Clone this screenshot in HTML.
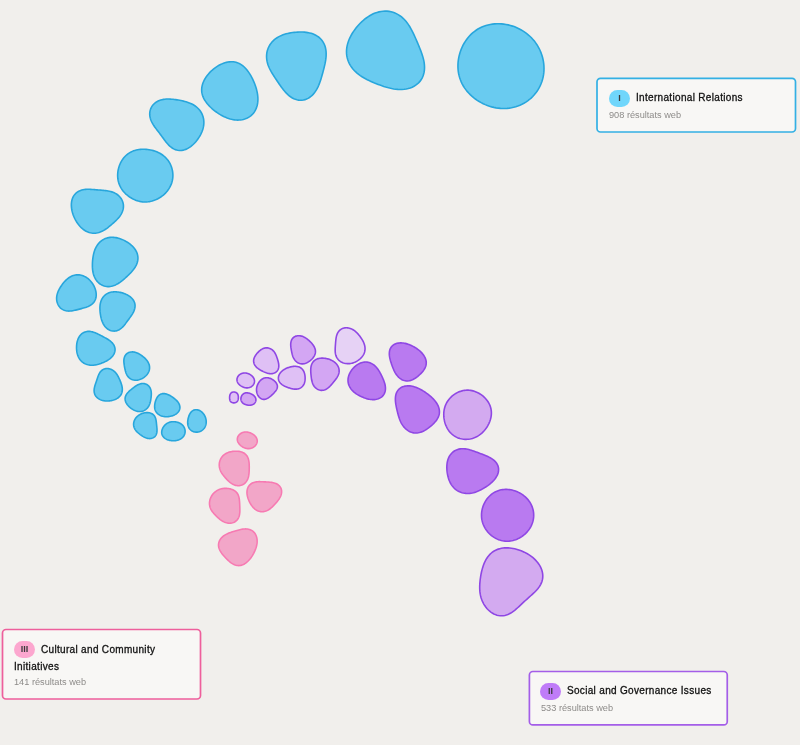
<!DOCTYPE html>
<html><head><meta charset="utf-8">
<style>
html,body{margin:0;padding:0;}
body{width:800px;height:745px;background:#f1efec;position:relative;overflow:hidden;font-family:"Liberation Sans",sans-serif;}
.box{position:absolute;box-sizing:border-box;background:#f8f7f5;border:1.5px solid;border-radius:4px;}
.badge{position:absolute;height:16.5px;border-radius:8.5px;font-size:9px;color:#3a3a3a;will-change:transform;text-align:center;line-height:16.5px;font-weight:bold;}
.t{position:absolute;font-size:10px;line-height:12px;color:#111;font-weight:normal;-webkit-text-stroke:0.3px #111;letter-spacing:0.32px;white-space:nowrap;will-change:transform;}
.s{position:absolute;font-size:9.2px;line-height:11px;color:#8d8b89;white-space:nowrap;will-change:transform;}
</style></head><body>
<svg width="800" height="745" viewBox="0 0 800 745" style="position:absolute;left:0;top:0">
<path d="M499.20,23.75 L501.46,23.87 L503.72,24.10 L505.97,24.44 L508.21,24.90 L510.41,25.45 L512.59,26.11 L514.73,26.87 L516.83,27.73 L518.87,28.68 L520.86,29.73 L522.80,30.86 L524.67,32.08 L526.47,33.39 L528.20,34.78 L529.86,36.25 L531.44,37.79 L532.94,39.41 L534.35,41.10 L535.68,42.86 L536.93,44.69 L538.08,46.58 L539.14,48.52 L540.10,50.52 L540.96,52.57 L541.72,54.67 L542.38,56.80 L542.93,58.97 L543.37,61.17 L543.70,63.40 L543.91,65.64 L544.00,67.89 L543.98,70.14 L543.83,72.39 L543.56,74.63 L543.17,76.85 L542.65,79.05 L542.01,81.21 L541.25,83.33 L540.37,85.41 L539.37,87.43 L538.26,89.39 L537.04,91.28 L535.71,93.10 L534.28,94.83 L532.76,96.48 L531.14,98.04 L529.45,99.50 L527.67,100.86 L525.83,102.12 L523.92,103.27 L521.95,104.31 L519.94,105.24 L517.87,106.06 L515.77,106.76 L513.64,107.34 L511.48,107.80 L509.30,108.15 L507.10,108.39 L504.89,108.50 L502.67,108.50 L500.45,108.39 L498.24,108.17 L496.03,107.84 L493.83,107.40 L491.64,106.86 L489.48,106.21 L487.35,105.46 L485.24,104.62 L483.18,103.68 L481.15,102.64 L479.17,101.52 L477.25,100.31 L475.38,99.02 L473.59,97.64 L471.86,96.19 L470.21,94.66 L468.65,93.06 L467.17,91.38 L465.79,89.64 L464.51,87.84 L463.33,85.98 L462.27,84.06 L461.31,82.08 L460.47,80.06 L459.75,77.99 L459.15,75.88 L458.66,73.73 L458.30,71.55 L458.06,69.35 L457.94,67.12 L457.95,64.88 L458.06,62.64 L458.30,60.39 L458.65,58.15 L459.12,55.92 L459.69,53.71 L460.38,51.54 L461.17,49.39 L462.06,47.29 L463.05,45.24 L464.14,43.25 L465.33,41.32 L466.61,39.47 L467.98,37.70 L469.44,36.01 L470.99,34.41 L472.61,32.92 L474.32,31.52 L476.09,30.23 L477.94,29.05 L479.86,27.99 L481.84,27.04 L483.87,26.21 L485.96,25.50 L488.09,24.91 L490.26,24.44 L492.46,24.09 L494.69,23.86 L496.94,23.74Z" fill="#69cbf0" stroke="#28a6dc" stroke-width="1.6"/>
<path d="M387.06,11.16 L389.07,11.38 L391.06,11.76 L393.02,12.30 L394.92,12.99 L396.77,13.84 L398.54,14.83 L400.24,15.96 L401.85,17.20 L403.38,18.56 L404.81,20.02 L406.16,21.55 L407.41,23.16 L408.58,24.83 L409.68,26.54 L410.70,28.29 L411.66,30.06 L412.57,31.84 L413.45,33.64 L414.28,35.44 L415.10,37.25 L415.90,39.05 L416.69,40.87 L417.47,42.68 L418.25,44.51 L419.02,46.35 L419.78,48.21 L420.53,50.09 L421.25,52.00 L421.94,53.93 L422.57,55.90 L423.15,57.89 L423.64,59.90 L424.05,61.94 L424.34,63.99 L424.50,66.04 L424.53,68.09 L424.41,70.12 L424.12,72.13 L423.67,74.08 L423.04,75.97 L422.24,77.79 L421.26,79.52 L420.11,81.13 L418.81,82.63 L417.35,83.99 L415.75,85.21 L414.03,86.29 L412.21,87.20 L410.29,87.97 L408.30,88.57 L406.26,89.02 L404.17,89.32 L402.07,89.48 L399.95,89.51 L397.85,89.42 L395.75,89.21 L393.68,88.92 L391.64,88.54 L389.63,88.08 L387.65,87.57 L385.70,87.01 L383.79,86.41 L381.90,85.77 L380.04,85.11 L378.19,84.42 L376.36,83.71 L374.53,82.98 L372.72,82.21 L370.91,81.41 L369.11,80.58 L367.31,79.70 L365.52,78.77 L363.76,77.78 L362.01,76.72 L360.31,75.59 L358.64,74.38 L357.04,73.09 L355.50,71.71 L354.05,70.25 L352.69,68.70 L351.45,67.07 L350.32,65.36 L349.33,63.57 L348.48,61.73 L347.77,59.82 L347.22,57.88 L346.82,55.89 L346.58,53.89 L346.50,51.87 L346.56,49.85 L346.77,47.83 L347.12,45.83 L347.60,43.85 L348.20,41.91 L348.90,40.00 L349.71,38.13 L350.61,36.30 L351.59,34.51 L352.64,32.77 L353.76,31.08 L354.94,29.43 L356.18,27.83 L357.47,26.27 L358.81,24.76 L360.20,23.29 L361.64,21.88 L363.14,20.52 L364.68,19.22 L366.29,17.99 L367.94,16.82 L369.66,15.74 L371.43,14.74 L373.25,13.85 L375.12,13.06 L377.04,12.40 L379.00,11.86 L380.99,11.46 L383.01,11.21 L385.03,11.10Z" fill="#69cbf0" stroke="#28a6dc" stroke-width="1.6"/>
<path d="M297.62,32.11 L299.31,32.04 L301.00,32.03 L302.70,32.07 L304.40,32.17 L306.10,32.34 L307.79,32.59 L309.46,32.92 L311.10,33.34 L312.71,33.86 L314.27,34.48 L315.78,35.21 L317.21,36.05 L318.56,36.99 L319.83,38.05 L320.99,39.21 L322.04,40.47 L322.98,41.83 L323.80,43.26 L324.49,44.78 L325.06,46.35 L325.51,47.98 L325.83,49.65 L326.05,51.35 L326.15,53.06 L326.16,54.78 L326.09,56.50 L325.93,58.20 L325.72,59.89 L325.44,61.56 L325.13,63.21 L324.78,64.84 L324.41,66.44 L324.02,68.02 L323.62,69.59 L323.21,71.15 L322.79,72.70 L322.36,74.25 L321.93,75.80 L321.48,77.36 L321.00,78.93 L320.50,80.50 L319.96,82.08 L319.38,83.67 L318.74,85.25 L318.03,86.82 L317.26,88.38 L316.40,89.89 L315.46,91.37 L314.44,92.78 L313.33,94.11 L312.13,95.35 L310.84,96.48 L309.48,97.49 L308.05,98.36 L306.56,99.08 L305.02,99.63 L303.43,100.02 L301.83,100.23 L300.20,100.27 L298.58,100.13 L296.98,99.82 L295.39,99.34 L293.84,98.71 L292.34,97.94 L290.88,97.03 L289.48,96.01 L288.14,94.89 L286.86,93.69 L285.64,92.42 L284.47,91.10 L283.36,89.74 L282.29,88.36 L281.27,86.97 L280.28,85.57 L279.31,84.18 L278.37,82.80 L277.45,81.43 L276.54,80.06 L275.63,78.71 L274.74,77.36 L273.86,76.00 L272.99,74.64 L272.14,73.27 L271.32,71.87 L270.53,70.45 L269.77,69.00 L269.08,67.51 L268.44,65.98 L267.88,64.42 L267.40,62.81 L267.02,61.17 L266.75,59.51 L266.59,57.82 L266.56,56.12 L266.65,54.42 L266.87,52.72 L267.23,51.05 L267.72,49.40 L268.33,47.81 L269.07,46.27 L269.93,44.79 L270.90,43.39 L271.97,42.07 L273.14,40.84 L274.38,39.71 L275.70,38.67 L277.07,37.72 L278.50,36.87 L279.97,36.10 L281.48,35.42 L283.02,34.83 L284.58,34.30 L286.16,33.84 L287.76,33.45 L289.37,33.11 L291.00,32.82 L292.63,32.57 L294.28,32.37 L295.95,32.22Z" fill="#69cbf0" stroke="#28a6dc" stroke-width="1.6"/>
<path d="M233.44,61.79 L234.75,61.98 L236.03,62.27 L237.28,62.65 L238.49,63.12 L239.65,63.68 L240.79,64.33 L241.88,65.06 L242.94,65.87 L243.96,66.75 L244.95,67.71 L245.90,68.72 L246.82,69.80 L247.71,70.94 L248.57,72.13 L249.40,73.36 L250.20,74.64 L250.98,75.96 L251.72,77.32 L252.43,78.71 L253.11,80.12 L253.76,81.57 L254.37,83.03 L254.95,84.52 L255.48,86.02 L255.97,87.53 L256.42,89.06 L256.81,90.59 L257.15,92.12 L257.43,93.66 L257.65,95.19 L257.81,96.72 L257.89,98.23 L257.91,99.73 L257.84,101.21 L257.70,102.67 L257.48,104.10 L257.18,105.50 L256.79,106.87 L256.32,108.19 L255.77,109.46 L255.14,110.68 L254.42,111.85 L253.62,112.95 L252.74,113.99 L251.79,114.96 L250.77,115.85 L249.68,116.67 L248.53,117.40 L247.32,118.05 L246.06,118.61 L244.75,119.09 L243.39,119.47 L242.00,119.76 L240.57,119.96 L239.12,120.07 L237.65,120.10 L236.16,120.03 L234.66,119.88 L233.15,119.64 L231.64,119.33 L230.13,118.94 L228.63,118.47 L227.13,117.94 L225.65,117.35 L224.19,116.69 L222.75,115.98 L221.33,115.22 L219.93,114.41 L218.57,113.56 L217.23,112.67 L215.93,111.74 L214.66,110.79 L213.43,109.80 L212.25,108.80 L211.11,107.76 L210.02,106.71 L208.97,105.64 L207.98,104.54 L207.05,103.43 L206.19,102.30 L205.38,101.16 L204.64,100.00 L203.98,98.82 L203.39,97.62 L202.89,96.40 L202.46,95.16 L202.13,93.91 L201.88,92.64 L201.72,91.35 L201.66,90.05 L201.70,88.72 L201.84,87.39 L202.07,86.04 L202.41,84.68 L202.84,83.32 L203.38,81.95 L204.01,80.58 L204.73,79.22 L205.54,77.86 L206.44,76.53 L207.43,75.21 L208.49,73.92 L209.63,72.66 L210.83,71.45 L212.09,70.28 L213.40,69.16 L214.76,68.09 L216.15,67.10 L217.58,66.17 L219.03,65.32 L220.50,64.55 L221.98,63.86 L223.46,63.26 L224.94,62.76 L226.41,62.35 L227.86,62.04 L229.29,61.83 L230.70,61.72 L232.08,61.71Z" fill="#69cbf0" stroke="#28a6dc" stroke-width="1.6"/>
<path d="M170.34,99.08 L171.70,99.18 L173.04,99.32 L174.37,99.48 L175.69,99.66 L177.00,99.86 L178.30,100.08 L179.60,100.32 L180.90,100.57 L182.20,100.84 L183.50,101.14 L184.80,101.46 L186.10,101.82 L187.40,102.21 L188.69,102.66 L189.97,103.15 L191.24,103.71 L192.48,104.32 L193.70,105.01 L194.88,105.76 L196.02,106.59 L197.11,107.49 L198.13,108.46 L199.09,109.49 L199.97,110.59 L200.77,111.75 L201.48,112.95 L202.10,114.20 L202.63,115.49 L203.07,116.80 L203.41,118.13 L203.65,119.47 L203.80,120.82 L203.87,122.17 L203.85,123.51 L203.74,124.84 L203.56,126.15 L203.31,127.44 L202.99,128.72 L202.60,129.98 L202.16,131.22 L201.66,132.44 L201.10,133.65 L200.50,134.84 L199.84,136.01 L199.14,137.18 L198.39,138.33 L197.59,139.46 L196.75,140.58 L195.85,141.67 L194.91,142.74 L193.92,143.77 L192.88,144.77 L191.80,145.71 L190.67,146.60 L189.49,147.42 L188.28,148.16 L187.04,148.82 L185.77,149.38 L184.47,149.83 L183.16,150.17 L181.85,150.39 L180.53,150.49 L179.22,150.46 L177.92,150.31 L176.65,150.03 L175.40,149.63 L174.19,149.11 L173.01,148.48 L171.88,147.76 L170.79,146.94 L169.74,146.05 L168.73,145.09 L167.77,144.08 L166.85,143.02 L165.96,141.94 L165.09,140.83 L164.26,139.72 L163.43,138.60 L162.63,137.49 L161.82,136.38 L161.02,135.28 L160.22,134.20 L159.41,133.13 L158.60,132.06 L157.79,131.00 L156.97,129.94 L156.16,128.87 L155.35,127.79 L154.56,126.69 L153.79,125.56 L153.05,124.41 L152.36,123.23 L151.73,122.01 L151.16,120.76 L150.67,119.48 L150.28,118.17 L149.98,116.84 L149.79,115.49 L149.72,114.13 L149.77,112.77 L149.95,111.42 L150.26,110.10 L150.69,108.82 L151.25,107.58 L151.94,106.40 L152.73,105.29 L153.64,104.26 L154.64,103.31 L155.73,102.46 L156.89,101.70 L158.12,101.05 L159.40,100.49 L160.72,100.03 L162.07,99.66 L163.45,99.39 L164.83,99.19 L166.21,99.07 L167.60,99.02 L168.98,99.03Z" fill="#69cbf0" stroke="#28a6dc" stroke-width="1.6"/>
<path d="M144.77,149.28 L146.21,149.36 L147.66,149.51 L149.09,149.71 L150.52,149.96 L151.92,150.28 L153.31,150.64 L154.68,151.06 L156.02,151.54 L157.33,152.07 L158.61,152.66 L159.85,153.31 L161.06,154.01 L162.22,154.77 L163.34,155.60 L164.41,156.48 L165.43,157.42 L166.39,158.42 L167.30,159.47 L168.15,160.58 L168.94,161.74 L169.66,162.94 L170.32,164.20 L170.90,165.49 L171.42,166.82 L171.86,168.18 L172.23,169.56 L172.51,170.97 L172.72,172.39 L172.85,173.82 L172.90,175.25 L172.86,176.68 L172.74,178.10 L172.54,179.51 L172.26,180.90 L171.91,182.27 L171.47,183.62 L170.95,184.93 L170.37,186.22 L169.71,187.46 L168.98,188.68 L168.19,189.85 L167.34,190.98 L166.43,192.06 L165.46,193.10 L164.44,194.10 L163.38,195.04 L162.27,195.93 L161.12,196.77 L159.93,197.56 L158.71,198.29 L157.47,198.96 L156.19,199.56 L154.89,200.11 L153.57,200.59 L152.22,201.00 L150.87,201.34 L149.50,201.61 L148.11,201.81 L146.72,201.93 L145.33,201.98 L143.93,201.94 L142.53,201.84 L141.13,201.65 L139.74,201.39 L138.36,201.05 L137.00,200.64 L135.64,200.16 L134.31,199.61 L133.01,198.99 L131.73,198.31 L130.48,197.56 L129.28,196.76 L128.11,195.90 L126.99,194.99 L125.91,194.04 L124.89,193.03 L123.93,191.98 L123.02,190.89 L122.18,189.76 L121.41,188.60 L120.70,187.40 L120.06,186.17 L119.50,184.91 L119.01,183.62 L118.59,182.30 L118.25,180.96 L117.98,179.60 L117.79,178.22 L117.68,176.83 L117.64,175.42 L117.68,174.00 L117.79,172.58 L117.97,171.16 L118.23,169.74 L118.55,168.33 L118.95,166.93 L119.42,165.56 L119.95,164.21 L120.55,162.89 L121.22,161.62 L121.95,160.38 L122.74,159.19 L123.59,158.06 L124.50,156.99 L125.46,155.97 L126.48,155.03 L127.55,154.15 L128.67,153.34 L129.84,152.61 L131.05,151.95 L132.30,151.37 L133.59,150.86 L134.91,150.42 L136.26,150.06 L137.64,149.76 L139.04,149.54 L140.45,149.38 L141.88,149.28 L143.32,149.25Z" fill="#69cbf0" stroke="#28a6dc" stroke-width="1.6"/>
<path d="M89.45,189.30 L90.75,189.35 L92.03,189.43 L93.31,189.52 L94.57,189.62 L95.82,189.73 L97.07,189.84 L98.30,189.95 L99.53,190.05 L100.75,190.15 L101.98,190.26 L103.20,190.36 L104.43,190.48 L105.66,190.62 L106.89,190.78 L108.13,190.98 L109.36,191.22 L110.60,191.51 L111.82,191.87 L113.03,192.29 L114.21,192.79 L115.37,193.36 L116.48,194.02 L117.55,194.76 L118.55,195.58 L119.48,196.49 L120.34,197.46 L121.10,198.50 L121.77,199.61 L122.33,200.76 L122.78,201.96 L123.12,203.19 L123.35,204.43 L123.45,205.69 L123.44,206.94 L123.32,208.19 L123.10,209.42 L122.76,210.63 L122.34,211.80 L121.83,212.94 L121.24,214.05 L120.58,215.12 L119.86,216.15 L119.09,217.14 L118.28,218.11 L117.43,219.05 L116.55,219.96 L115.65,220.85 L114.74,221.72 L113.80,222.58 L112.86,223.43 L111.90,224.27 L110.93,225.10 L109.95,225.91 L108.96,226.72 L107.94,227.51 L106.91,228.28 L105.86,229.02 L104.79,229.73 L103.69,230.39 L102.57,231.01 L101.42,231.56 L100.24,232.05 L99.04,232.47 L97.83,232.80 L96.59,233.04 L95.34,233.19 L94.09,233.25 L92.83,233.20 L91.58,233.06 L90.34,232.82 L89.11,232.48 L87.91,232.05 L86.74,231.53 L85.60,230.93 L84.50,230.26 L83.44,229.52 L82.43,228.72 L81.46,227.86 L80.55,226.97 L79.68,226.03 L78.86,225.06 L78.09,224.06 L77.36,223.04 L76.67,222.00 L76.03,220.94 L75.42,219.86 L74.86,218.76 L74.33,217.65 L73.83,216.51 L73.38,215.36 L72.96,214.18 L72.58,212.98 L72.24,211.76 L71.95,210.51 L71.71,209.25 L71.52,207.97 L71.40,206.68 L71.35,205.38 L71.36,204.08 L71.46,202.78 L71.64,201.50 L71.90,200.24 L72.26,199.01 L72.71,197.83 L73.25,196.70 L73.88,195.63 L74.60,194.64 L75.41,193.72 L76.31,192.88 L77.28,192.13 L78.32,191.48 L79.42,190.91 L80.57,190.44 L81.77,190.06 L83.01,189.76 L84.27,189.54 L85.56,189.40 L86.85,189.31 L88.15,189.28Z" fill="#69cbf0" stroke="#28a6dc" stroke-width="1.6"/>
<path d="M112.39,237.30 L113.60,237.35 L114.81,237.47 L116.01,237.65 L117.20,237.90 L118.39,238.19 L119.56,238.54 L120.72,238.94 L121.87,239.38 L123.01,239.87 L124.13,240.40 L125.24,240.97 L126.33,241.58 L127.41,242.24 L128.46,242.93 L129.49,243.67 L130.48,244.45 L131.44,245.27 L132.37,246.13 L133.24,247.04 L134.06,247.99 L134.82,248.98 L135.51,250.01 L136.13,251.07 L136.66,252.17 L137.11,253.30 L137.46,254.45 L137.72,255.63 L137.88,256.81 L137.94,258.01 L137.90,259.21 L137.76,260.40 L137.53,261.59 L137.20,262.76 L136.79,263.92 L136.29,265.05 L135.72,266.15 L135.09,267.23 L134.40,268.28 L133.67,269.31 L132.89,270.30 L132.07,271.26 L131.24,272.20 L130.38,273.12 L129.50,274.01 L128.62,274.89 L127.72,275.75 L126.82,276.59 L125.92,277.42 L125.01,278.24 L124.08,279.04 L123.15,279.84 L122.21,280.61 L121.24,281.36 L120.26,282.09 L119.25,282.79 L118.22,283.46 L117.16,284.08 L116.07,284.65 L114.95,285.16 L113.80,285.61 L112.62,285.98 L111.43,286.27 L110.21,286.47 L108.98,286.58 L107.75,286.59 L106.52,286.49 L105.30,286.29 L104.10,285.98 L102.93,285.57 L101.80,285.06 L100.71,284.44 L99.68,283.74 L98.71,282.94 L97.80,282.07 L96.97,281.12 L96.21,280.12 L95.52,279.05 L94.91,277.95 L94.38,276.80 L93.92,275.63 L93.53,274.43 L93.21,273.23 L92.95,272.01 L92.75,270.79 L92.59,269.57 L92.49,268.35 L92.42,267.13 L92.39,265.92 L92.39,264.72 L92.42,263.52 L92.47,262.32 L92.55,261.12 L92.65,259.92 L92.79,258.72 L92.95,257.52 L93.14,256.31 L93.36,255.11 L93.62,253.91 L93.93,252.71 L94.28,251.51 L94.69,250.33 L95.14,249.16 L95.66,248.01 L96.24,246.89 L96.88,245.80 L97.58,244.75 L98.35,243.75 L99.17,242.81 L100.06,241.93 L101.00,241.11 L102.00,240.37 L103.04,239.70 L104.12,239.11 L105.24,238.61 L106.39,238.19 L107.57,237.85 L108.76,237.59 L109.96,237.42 L111.17,237.32Z" fill="#69cbf0" stroke="#28a6dc" stroke-width="1.6"/>
<path d="M78.28,274.84 L79.27,274.91 L80.25,275.04 L81.22,275.23 L82.18,275.49 L83.11,275.80 L84.02,276.17 L84.90,276.59 L85.75,277.06 L86.58,277.57 L87.37,278.12 L88.14,278.71 L88.87,279.34 L89.58,280.00 L90.25,280.70 L90.90,281.42 L91.52,282.18 L92.11,282.97 L92.66,283.78 L93.19,284.63 L93.69,285.50 L94.15,286.40 L94.57,287.33 L94.95,288.28 L95.30,289.25 L95.59,290.23 L95.83,291.24 L96.02,292.25 L96.15,293.26 L96.22,294.28 L96.22,295.29 L96.16,296.29 L96.02,297.27 L95.81,298.23 L95.52,299.15 L95.17,300.04 L94.73,300.89 L94.23,301.70 L93.67,302.46 L93.04,303.17 L92.35,303.83 L91.60,304.44 L90.81,305.00 L89.97,305.51 L89.10,305.97 L88.20,306.40 L87.28,306.79 L86.33,307.15 L85.38,307.47 L84.41,307.78 L83.44,308.07 L82.46,308.35 L81.49,308.62 L80.52,308.88 L79.55,309.14 L78.58,309.39 L77.62,309.64 L76.65,309.88 L75.69,310.12 L74.73,310.34 L73.76,310.54 L72.79,310.73 L71.83,310.88 L70.86,311.00 L69.88,311.07 L68.91,311.10 L67.95,311.07 L66.98,310.97 L66.03,310.81 L65.10,310.58 L64.18,310.27 L63.29,309.88 L62.44,309.42 L61.62,308.88 L60.84,308.27 L60.12,307.59 L59.46,306.84 L58.85,306.03 L58.31,305.16 L57.85,304.26 L57.45,303.31 L57.13,302.34 L56.89,301.34 L56.72,300.33 L56.63,299.31 L56.60,298.29 L56.65,297.28 L56.76,296.28 L56.92,295.30 L57.15,294.33 L57.42,293.38 L57.74,292.46 L58.10,291.55 L58.49,290.66 L58.92,289.80 L59.37,288.95 L59.84,288.11 L60.34,287.29 L60.86,286.48 L61.40,285.68 L61.95,284.89 L62.53,284.10 L63.13,283.33 L63.75,282.57 L64.39,281.82 L65.06,281.08 L65.76,280.37 L66.48,279.67 L67.24,279.01 L68.02,278.37 L68.84,277.78 L69.68,277.22 L70.56,276.72 L71.46,276.26 L72.39,275.87 L73.34,275.53 L74.31,275.26 L75.29,275.05 L76.28,274.91 L77.28,274.84Z" fill="#69cbf0" stroke="#28a6dc" stroke-width="1.6"/>
<path d="M115.44,291.80 L116.40,291.84 L117.35,291.93 L118.30,292.04 L119.25,292.20 L120.19,292.38 L121.14,292.60 L122.08,292.85 L123.02,293.13 L123.95,293.44 L124.88,293.79 L125.80,294.18 L126.70,294.60 L127.59,295.06 L128.46,295.56 L129.30,296.11 L130.11,296.69 L130.87,297.33 L131.60,298.00 L132.27,298.72 L132.88,299.47 L133.42,300.27 L133.89,301.10 L134.29,301.96 L134.61,302.84 L134.85,303.75 L135.00,304.67 L135.07,305.61 L135.05,306.55 L134.96,307.49 L134.79,308.43 L134.55,309.36 L134.24,310.28 L133.88,311.18 L133.46,312.07 L133.01,312.95 L132.51,313.81 L131.99,314.65 L131.44,315.48 L130.88,316.30 L130.31,317.11 L129.73,317.90 L129.16,318.69 L128.58,319.48 L128.00,320.27 L127.43,321.05 L126.86,321.83 L126.28,322.61 L125.70,323.39 L125.11,324.16 L124.50,324.92 L123.88,325.66 L123.23,326.39 L122.56,327.09 L121.85,327.76 L121.12,328.39 L120.35,328.97 L119.55,329.50 L118.71,329.96 L117.84,330.35 L116.94,330.67 L116.02,330.90 L115.07,331.05 L114.12,331.10 L113.15,331.07 L112.19,330.94 L111.24,330.72 L110.30,330.41 L109.39,330.01 L108.51,329.54 L107.66,328.98 L106.86,328.36 L106.11,327.68 L105.40,326.94 L104.75,326.16 L104.16,325.34 L103.62,324.49 L103.13,323.61 L102.69,322.72 L102.30,321.81 L101.95,320.90 L101.64,319.98 L101.37,319.06 L101.13,318.14 L100.92,317.22 L100.73,316.31 L100.56,315.39 L100.41,314.47 L100.28,313.54 L100.17,312.61 L100.07,311.68 L100.00,310.73 L99.94,309.78 L99.91,308.82 L99.91,307.85 L99.93,306.87 L100.00,305.89 L100.11,304.90 L100.26,303.92 L100.46,302.94 L100.71,301.97 L101.02,301.02 L101.39,300.09 L101.81,299.18 L102.30,298.31 L102.84,297.49 L103.44,296.70 L104.09,295.97 L104.79,295.29 L105.54,294.67 L106.33,294.12 L107.15,293.62 L108.01,293.18 L108.89,292.81 L109.80,292.50 L110.72,292.25 L111.65,292.06 L112.59,291.92 L113.54,291.83 L114.49,291.79Z" fill="#69cbf0" stroke="#28a6dc" stroke-width="1.6"/>
<path d="M88.80,331.36 L89.74,331.40 L90.68,331.50 L91.62,331.66 L92.55,331.88 L93.46,332.15 L94.36,332.45 L95.25,332.79 L96.12,333.16 L96.98,333.55 L97.82,333.95 L98.66,334.37 L99.48,334.79 L100.30,335.22 L101.12,335.65 L101.94,336.08 L102.76,336.51 L103.58,336.94 L104.41,337.38 L105.24,337.83 L106.07,338.29 L106.91,338.77 L107.73,339.27 L108.55,339.79 L109.36,340.34 L110.14,340.93 L110.89,341.55 L111.61,342.20 L112.27,342.90 L112.89,343.63 L113.44,344.40 L113.92,345.21 L114.33,346.04 L114.65,346.90 L114.88,347.79 L115.02,348.69 L115.07,349.60 L115.02,350.51 L114.88,351.42 L114.65,352.32 L114.33,353.21 L113.92,354.07 L113.44,354.90 L112.89,355.70 L112.28,356.47 L111.61,357.19 L110.90,357.88 L110.14,358.53 L109.36,359.13 L108.55,359.70 L107.73,360.23 L106.89,360.73 L106.04,361.19 L105.19,361.62 L104.34,362.03 L103.49,362.41 L102.64,362.76 L101.78,363.10 L100.93,363.42 L100.07,363.72 L99.21,364.00 L98.34,364.25 L97.46,364.49 L96.57,364.70 L95.67,364.88 L94.75,365.03 L93.83,365.14 L92.89,365.21 L91.94,365.23 L90.99,365.21 L90.03,365.13 L89.08,365.00 L88.13,364.81 L87.19,364.57 L86.27,364.26 L85.36,363.89 L84.49,363.46 L83.65,362.97 L82.85,362.42 L82.10,361.83 L81.38,361.18 L80.72,360.49 L80.11,359.76 L79.55,358.99 L79.05,358.19 L78.60,357.37 L78.20,356.52 L77.85,355.66 L77.55,354.78 L77.29,353.89 L77.07,352.98 L76.89,352.07 L76.75,351.16 L76.65,350.23 L76.58,349.31 L76.54,348.38 L76.53,347.44 L76.55,346.50 L76.60,345.56 L76.69,344.62 L76.81,343.67 L76.97,342.73 L77.17,341.79 L77.41,340.87 L77.70,339.95 L78.03,339.05 L78.42,338.18 L78.86,337.33 L79.36,336.51 L79.90,335.74 L80.51,335.01 L81.16,334.34 L81.87,333.72 L82.62,333.17 L83.41,332.69 L84.25,332.28 L85.11,331.95 L86.01,331.69 L86.92,331.50 L87.86,331.40Z" fill="#69cbf0" stroke="#28a6dc" stroke-width="1.6"/>
<path d="M132.20,351.90 L132.93,351.92 L133.66,351.99 L134.38,352.11 L135.09,352.26 L135.79,352.45 L136.47,352.68 L137.14,352.94 L137.78,353.22 L138.42,353.53 L139.03,353.86 L139.63,354.20 L140.22,354.56 L140.80,354.94 L141.36,355.33 L141.91,355.73 L142.46,356.14 L143.00,356.57 L143.53,357.01 L144.05,357.46 L144.57,357.93 L145.08,358.42 L145.58,358.92 L146.06,359.45 L146.53,359.99 L146.98,360.56 L147.40,361.14 L147.80,361.75 L148.16,362.38 L148.50,363.02 L148.79,363.69 L149.04,364.36 L149.25,365.06 L149.41,365.76 L149.52,366.46 L149.57,367.18 L149.58,367.89 L149.54,368.60 L149.44,369.30 L149.30,370.00 L149.11,370.68 L148.87,371.35 L148.59,372.01 L148.28,372.64 L147.92,373.26 L147.53,373.85 L147.11,374.42 L146.65,374.97 L146.18,375.49 L145.68,375.99 L145.15,376.47 L144.61,376.92 L144.05,377.35 L143.47,377.75 L142.87,378.13 L142.26,378.48 L141.63,378.81 L140.98,379.10 L140.33,379.37 L139.65,379.60 L138.97,379.80 L138.28,379.96 L137.57,380.09 L136.86,380.18 L136.15,380.22 L135.43,380.22 L134.72,380.17 L134.01,380.08 L133.31,379.94 L132.63,379.75 L131.96,379.52 L131.31,379.23 L130.69,378.90 L130.09,378.53 L129.53,378.11 L129.00,377.65 L128.50,377.16 L128.04,376.63 L127.62,376.07 L127.23,375.49 L126.88,374.88 L126.56,374.25 L126.28,373.61 L126.02,372.95 L125.79,372.28 L125.58,371.61 L125.39,370.93 L125.22,370.24 L125.05,369.55 L124.90,368.86 L124.76,368.17 L124.63,367.48 L124.50,366.78 L124.38,366.08 L124.26,365.38 L124.16,364.67 L124.06,363.97 L123.98,363.26 L123.91,362.54 L123.87,361.83 L123.85,361.11 L123.86,360.40 L123.91,359.69 L123.99,358.99 L124.12,358.30 L124.29,357.62 L124.50,356.97 L124.77,356.33 L125.10,355.73 L125.47,355.15 L125.89,354.61 L126.36,354.11 L126.88,353.66 L127.45,353.26 L128.05,352.90 L128.69,352.60 L129.35,352.35 L130.04,352.16 L130.75,352.02 L131.47,351.94Z" fill="#69cbf0" stroke="#28a6dc" stroke-width="1.6"/>
<path d="M106.70,368.53 L107.52,368.53 L108.34,368.60 L109.16,368.73 L109.96,368.94 L110.75,369.21 L111.52,369.54 L112.26,369.92 L112.96,370.35 L113.63,370.83 L114.26,371.34 L114.85,371.89 L115.40,372.46 L115.91,373.06 L116.39,373.67 L116.84,374.30 L117.26,374.94 L117.65,375.60 L118.02,376.26 L118.38,376.93 L118.72,377.61 L119.05,378.29 L119.38,378.99 L119.69,379.69 L120.00,380.41 L120.31,381.14 L120.61,381.88 L120.89,382.63 L121.17,383.40 L121.43,384.18 L121.66,384.98 L121.87,385.79 L122.05,386.60 L122.18,387.43 L122.28,388.25 L122.33,389.08 L122.32,389.90 L122.26,390.72 L122.15,391.52 L121.97,392.30 L121.73,393.07 L121.43,393.80 L121.07,394.51 L120.66,395.18 L120.19,395.82 L119.67,396.42 L119.11,396.98 L118.50,397.50 L117.86,397.98 L117.19,398.41 L116.49,398.81 L115.78,399.17 L115.04,399.49 L114.29,399.78 L113.54,400.03 L112.77,400.25 L112.00,400.44 L111.23,400.60 L110.45,400.74 L109.67,400.84 L108.89,400.92 L108.10,400.97 L107.31,401.00 L106.52,400.99 L105.73,400.95 L104.94,400.88 L104.14,400.78 L103.35,400.63 L102.56,400.45 L101.78,400.23 L101.01,399.96 L100.25,399.64 L99.52,399.28 L98.81,398.87 L98.13,398.42 L97.49,397.92 L96.90,397.38 L96.35,396.80 L95.86,396.17 L95.42,395.51 L95.04,394.83 L94.73,394.11 L94.48,393.37 L94.30,392.61 L94.17,391.84 L94.11,391.06 L94.10,390.27 L94.15,389.47 L94.24,388.68 L94.38,387.89 L94.55,387.10 L94.75,386.32 L94.97,385.55 L95.21,384.78 L95.45,384.01 L95.71,383.25 L95.97,382.49 L96.22,381.74 L96.48,380.98 L96.73,380.23 L96.98,379.47 L97.22,378.72 L97.47,377.96 L97.73,377.21 L97.99,376.46 L98.28,375.72 L98.58,374.98 L98.90,374.26 L99.26,373.56 L99.66,372.88 L100.09,372.23 L100.56,371.61 L101.08,371.04 L101.65,370.51 L102.26,370.03 L102.92,369.62 L103.61,369.26 L104.34,368.97 L105.10,368.75 L105.89,368.60Z" fill="#69cbf0" stroke="#28a6dc" stroke-width="1.6"/>
<path d="M144.17,383.62 L144.87,383.76 L145.55,383.96 L146.21,384.22 L146.84,384.54 L147.44,384.91 L148.01,385.34 L148.53,385.81 L149.01,386.33 L149.45,386.89 L149.84,387.48 L150.18,388.10 L150.47,388.75 L150.71,389.42 L150.91,390.10 L151.07,390.80 L151.18,391.50 L151.26,392.21 L151.31,392.92 L151.33,393.63 L151.33,394.33 L151.30,395.04 L151.26,395.74 L151.20,396.43 L151.13,397.12 L151.05,397.81 L150.96,398.50 L150.86,399.18 L150.75,399.86 L150.63,400.54 L150.49,401.22 L150.33,401.90 L150.16,402.58 L149.96,403.25 L149.73,403.91 L149.48,404.57 L149.19,405.22 L148.87,405.85 L148.52,406.47 L148.12,407.07 L147.69,407.64 L147.22,408.19 L146.72,408.71 L146.18,409.19 L145.61,409.63 L145.01,410.03 L144.38,410.39 L143.74,410.70 L143.07,410.96 L142.39,411.18 L141.70,411.35 L141.01,411.47 L140.31,411.54 L139.61,411.57 L138.92,411.55 L138.24,411.48 L137.56,411.38 L136.89,411.24 L136.24,411.06 L135.59,410.84 L134.95,410.59 L134.32,410.31 L133.70,410.00 L133.09,409.67 L132.49,409.30 L131.90,408.92 L131.32,408.50 L130.74,408.07 L130.18,407.61 L129.62,407.13 L129.09,406.63 L128.56,406.10 L128.06,405.56 L127.59,404.99 L127.14,404.41 L126.72,403.80 L126.35,403.18 L126.01,402.55 L125.72,401.91 L125.48,401.25 L125.30,400.59 L125.17,399.92 L125.10,399.25 L125.10,398.58 L125.15,397.92 L125.26,397.26 L125.43,396.61 L125.66,395.98 L125.94,395.35 L126.26,394.75 L126.64,394.15 L127.05,393.58 L127.49,393.02 L127.97,392.48 L128.47,391.96 L128.98,391.45 L129.52,390.95 L130.06,390.47 L130.60,390.00 L131.15,389.54 L131.71,389.08 L132.26,388.64 L132.81,388.20 L133.37,387.77 L133.92,387.34 L134.48,386.93 L135.05,386.52 L135.62,386.12 L136.20,385.74 L136.79,385.37 L137.40,385.03 L138.02,384.71 L138.65,384.42 L139.30,384.16 L139.97,383.94 L140.65,383.76 L141.35,383.62 L142.05,383.54 L142.76,383.51 L143.47,383.54Z" fill="#69cbf0" stroke="#28a6dc" stroke-width="1.6"/>
<path d="M163.91,393.59 L164.54,393.63 L165.17,393.72 L165.81,393.84 L166.43,394.01 L167.05,394.20 L167.67,394.43 L168.27,394.68 L168.86,394.96 L169.44,395.25 L170.00,395.56 L170.56,395.89 L171.10,396.22 L171.63,396.56 L172.15,396.91 L172.66,397.27 L173.17,397.63 L173.67,398.00 L174.16,398.38 L174.64,398.76 L175.12,399.16 L175.59,399.57 L176.05,399.99 L176.50,400.43 L176.94,400.89 L177.37,401.36 L177.77,401.85 L178.16,402.37 L178.51,402.90 L178.84,403.45 L179.13,404.02 L179.38,404.61 L179.58,405.21 L179.74,405.82 L179.85,406.44 L179.91,407.07 L179.92,407.69 L179.86,408.32 L179.76,408.93 L179.59,409.54 L179.37,410.13 L179.11,410.70 L178.79,411.25 L178.42,411.77 L178.02,412.27 L177.57,412.74 L177.09,413.19 L176.59,413.60 L176.06,413.98 L175.51,414.33 L174.94,414.65 L174.37,414.95 L173.78,415.21 L173.19,415.46 L172.60,415.67 L172.00,415.87 L171.40,416.04 L170.81,416.20 L170.21,416.33 L169.61,416.45 L169.01,416.55 L168.41,416.62 L167.80,416.68 L167.19,416.72 L166.58,416.74 L165.96,416.74 L165.34,416.71 L164.71,416.65 L164.08,416.57 L163.45,416.46 L162.81,416.32 L162.18,416.15 L161.56,415.95 L160.94,415.71 L160.33,415.45 L159.74,415.14 L159.17,414.81 L158.62,414.45 L158.10,414.05 L157.60,413.63 L157.14,413.18 L156.72,412.71 L156.33,412.21 L155.99,411.70 L155.68,411.16 L155.41,410.61 L155.19,410.05 L155.00,409.47 L154.85,408.88 L154.74,408.29 L154.67,407.69 L154.63,407.08 L154.61,406.46 L154.63,405.84 L154.68,405.22 L154.74,404.59 L154.83,403.96 L154.95,403.33 L155.08,402.70 L155.23,402.07 L155.41,401.44 L155.60,400.81 L155.82,400.19 L156.05,399.58 L156.31,398.98 L156.60,398.39 L156.90,397.82 L157.24,397.27 L157.60,396.75 L157.99,396.26 L158.41,395.80 L158.85,395.37 L159.33,394.99 L159.83,394.65 L160.35,394.35 L160.90,394.10 L161.47,393.90 L162.06,393.75 L162.67,393.65 L163.28,393.60Z" fill="#69cbf0" stroke="#28a6dc" stroke-width="1.6"/>
<path d="M196.43,409.71 L196.97,409.75 L197.50,409.84 L198.02,409.96 L198.54,410.12 L199.06,410.31 L199.56,410.54 L200.05,410.80 L200.52,411.08 L200.98,411.40 L201.42,411.73 L201.84,412.08 L202.25,412.45 L202.63,412.84 L202.99,413.24 L203.34,413.65 L203.66,414.08 L203.97,414.52 L204.26,414.96 L204.52,415.42 L204.77,415.88 L205.00,416.35 L205.21,416.83 L205.40,417.32 L205.57,417.81 L205.73,418.32 L205.86,418.83 L205.98,419.34 L206.07,419.87 L206.14,420.40 L206.19,420.93 L206.22,421.47 L206.22,422.02 L206.20,422.56 L206.16,423.10 L206.09,423.65 L205.99,424.19 L205.87,424.72 L205.72,425.25 L205.55,425.76 L205.34,426.27 L205.11,426.76 L204.86,427.25 L204.58,427.71 L204.27,428.16 L203.94,428.59 L203.59,429.00 L203.21,429.38 L202.81,429.75 L202.39,430.09 L201.96,430.41 L201.50,430.71 L201.03,430.98 L200.54,431.23 L200.04,431.44 L199.53,431.63 L199.01,431.80 L198.48,431.93 L197.94,432.03 L197.40,432.11 L196.85,432.15 L196.30,432.16 L195.76,432.14 L195.21,432.08 L194.67,431.99 L194.14,431.87 L193.62,431.71 L193.10,431.52 L192.61,431.30 L192.12,431.05 L191.66,430.76 L191.22,430.45 L190.79,430.10 L190.39,429.73 L190.02,429.33 L189.67,428.91 L189.35,428.47 L189.06,428.02 L188.80,427.54 L188.57,427.05 L188.36,426.55 L188.19,426.05 L188.04,425.53 L187.92,425.01 L187.82,424.49 L187.75,423.96 L187.70,423.43 L187.68,422.91 L187.67,422.38 L187.69,421.86 L187.72,421.33 L187.77,420.81 L187.83,420.29 L187.91,419.77 L188.00,419.25 L188.10,418.73 L188.22,418.21 L188.35,417.69 L188.50,417.17 L188.66,416.65 L188.84,416.14 L189.03,415.63 L189.24,415.12 L189.47,414.62 L189.72,414.13 L189.99,413.65 L190.28,413.18 L190.59,412.74 L190.92,412.31 L191.28,411.90 L191.66,411.52 L192.06,411.17 L192.48,410.86 L192.93,410.57 L193.39,410.33 L193.87,410.12 L194.36,409.95 L194.87,409.83 L195.38,409.75 L195.91,409.71Z" fill="#69cbf0" stroke="#28a6dc" stroke-width="1.6"/>
<path d="M147.39,412.58 L148.07,412.61 L148.76,412.68 L149.43,412.80 L150.09,412.96 L150.72,413.16 L151.34,413.41 L151.92,413.70 L152.47,414.03 L152.99,414.41 L153.47,414.82 L153.90,415.28 L154.30,415.76 L154.65,416.28 L154.96,416.83 L155.23,417.39 L155.46,417.98 L155.66,418.59 L155.83,419.21 L155.97,419.85 L156.09,420.49 L156.19,421.13 L156.28,421.78 L156.36,422.44 L156.43,423.09 L156.50,423.75 L156.57,424.41 L156.63,425.07 L156.70,425.73 L156.77,426.39 L156.83,427.05 L156.89,427.72 L156.94,428.38 L156.99,429.05 L157.01,429.72 L157.02,430.39 L157.00,431.05 L156.95,431.71 L156.87,432.36 L156.75,433.00 L156.59,433.63 L156.38,434.23 L156.12,434.82 L155.81,435.37 L155.46,435.89 L155.06,436.38 L154.61,436.82 L154.11,437.22 L153.57,437.57 L153.00,437.88 L152.40,438.12 L151.77,438.32 L151.12,438.46 L150.45,438.54 L149.77,438.58 L149.09,438.56 L148.41,438.49 L147.74,438.38 L147.07,438.23 L146.42,438.04 L145.78,437.81 L145.15,437.56 L144.54,437.28 L143.95,436.98 L143.37,436.66 L142.81,436.33 L142.27,435.99 L141.73,435.63 L141.20,435.27 L140.69,434.90 L140.18,434.53 L139.68,434.15 L139.18,433.75 L138.69,433.35 L138.21,432.94 L137.73,432.51 L137.27,432.07 L136.81,431.61 L136.38,431.14 L135.96,430.64 L135.56,430.12 L135.19,429.58 L134.85,429.01 L134.54,428.43 L134.27,427.82 L134.04,427.20 L133.86,426.56 L133.72,425.91 L133.63,425.24 L133.59,424.57 L133.59,423.90 L133.65,423.23 L133.75,422.56 L133.90,421.90 L134.09,421.26 L134.32,420.63 L134.60,420.02 L134.90,419.43 L135.24,418.86 L135.61,418.32 L136.00,417.80 L136.41,417.31 L136.85,416.84 L137.31,416.40 L137.78,415.99 L138.27,415.60 L138.77,415.23 L139.29,414.89 L139.82,414.57 L140.37,414.27 L140.94,413.99 L141.52,413.73 L142.12,413.50 L142.73,413.29 L143.36,413.10 L144.00,412.94 L144.66,412.80 L145.33,412.70 L146.01,412.62 L146.70,412.58Z" fill="#69cbf0" stroke="#28a6dc" stroke-width="1.6"/>
<path d="M173.84,421.72 L174.42,421.75 L174.99,421.80 L175.56,421.88 L176.13,421.97 L176.69,422.08 L177.25,422.21 L177.80,422.36 L178.34,422.53 L178.86,422.73 L179.38,422.95 L179.88,423.18 L180.37,423.44 L180.84,423.73 L181.29,424.04 L181.72,424.37 L182.14,424.72 L182.53,425.10 L182.90,425.50 L183.25,425.92 L183.57,426.37 L183.86,426.83 L184.13,427.32 L184.37,427.82 L184.58,428.34 L184.75,428.88 L184.90,429.42 L185.01,429.98 L185.08,430.54 L185.12,431.11 L185.12,431.68 L185.08,432.25 L185.00,432.81 L184.89,433.37 L184.74,433.92 L184.55,434.45 L184.32,434.98 L184.06,435.48 L183.77,435.97 L183.44,436.43 L183.08,436.88 L182.69,437.30 L182.28,437.69 L181.85,438.06 L181.39,438.41 L180.92,438.73 L180.43,439.02 L179.92,439.29 L179.41,439.54 L178.89,439.76 L178.36,439.95 L177.83,440.12 L177.29,440.28 L176.75,440.41 L176.21,440.52 L175.67,440.61 L175.12,440.68 L174.58,440.73 L174.03,440.76 L173.49,440.78 L172.94,440.77 L172.39,440.75 L171.84,440.71 L171.29,440.65 L170.74,440.57 L170.18,440.48 L169.63,440.36 L169.08,440.22 L168.53,440.06 L167.98,439.88 L167.44,439.67 L166.91,439.44 L166.39,439.19 L165.88,438.92 L165.39,438.62 L164.91,438.29 L164.47,437.95 L164.04,437.57 L163.64,437.18 L163.28,436.77 L162.95,436.33 L162.65,435.88 L162.39,435.40 L162.18,434.91 L162.00,434.41 L161.86,433.89 L161.76,433.36 L161.71,432.82 L161.69,432.27 L161.72,431.72 L161.78,431.17 L161.88,430.61 L162.01,430.06 L162.18,429.51 L162.38,428.97 L162.61,428.44 L162.86,427.92 L163.14,427.41 L163.45,426.92 L163.77,426.44 L164.12,425.99 L164.48,425.55 L164.86,425.13 L165.25,424.73 L165.67,424.36 L166.09,424.01 L166.53,423.69 L166.98,423.39 L167.45,423.12 L167.93,422.87 L168.42,422.64 L168.92,422.44 L169.43,422.27 L169.96,422.12 L170.49,422.00 L171.03,421.90 L171.58,421.82 L172.14,421.76 L172.70,421.73 L173.27,421.72Z" fill="#69cbf0" stroke="#28a6dc" stroke-width="1.6"/>
<path d="M267.05,347.84 L267.71,347.89 L268.37,348.00 L269.02,348.16 L269.66,348.38 L270.28,348.64 L270.89,348.95 L271.47,349.30 L272.03,349.69 L272.56,350.13 L273.06,350.59 L273.53,351.08 L273.97,351.60 L274.37,352.14 L274.75,352.69 L275.09,353.26 L275.41,353.84 L275.70,354.42 L275.97,355.01 L276.23,355.60 L276.46,356.20 L276.69,356.79 L276.90,357.39 L277.11,357.99 L277.31,358.60 L277.50,359.20 L277.69,359.82 L277.87,360.44 L278.05,361.07 L278.22,361.70 L278.37,362.35 L278.50,363.01 L278.62,363.67 L278.71,364.34 L278.77,365.02 L278.80,365.69 L278.79,366.37 L278.73,367.04 L278.63,367.71 L278.48,368.36 L278.27,368.99 L278.02,369.60 L277.71,370.18 L277.34,370.72 L276.93,371.23 L276.47,371.70 L275.96,372.12 L275.41,372.49 L274.82,372.81 L274.21,373.09 L273.56,373.31 L272.90,373.47 L272.23,373.59 L271.55,373.66 L270.86,373.68 L270.17,373.66 L269.49,373.60 L268.82,373.50 L268.16,373.37 L267.51,373.22 L266.88,373.04 L266.25,372.83 L265.64,372.61 L265.04,372.38 L264.45,372.13 L263.87,371.87 L263.29,371.61 L262.72,371.33 L262.15,371.04 L261.58,370.74 L261.02,370.43 L260.45,370.10 L259.88,369.76 L259.32,369.41 L258.77,369.03 L258.22,368.64 L257.68,368.22 L257.15,367.78 L256.65,367.32 L256.17,366.84 L255.72,366.33 L255.30,365.80 L254.92,365.24 L254.58,364.67 L254.29,364.08 L254.05,363.48 L253.86,362.86 L253.72,362.23 L253.64,361.60 L253.61,360.96 L253.64,360.33 L253.71,359.69 L253.84,359.06 L254.02,358.44 L254.23,357.82 L254.49,357.22 L254.79,356.63 L255.11,356.04 L255.46,355.48 L255.84,354.92 L256.24,354.38 L256.66,353.85 L257.09,353.34 L257.53,352.83 L257.99,352.35 L258.46,351.87 L258.94,351.41 L259.43,350.97 L259.94,350.55 L260.45,350.14 L260.98,349.76 L261.52,349.41 L262.08,349.08 L262.66,348.78 L263.25,348.52 L263.85,348.29 L264.47,348.11 L265.10,347.97 L265.75,347.87 L266.40,347.83Z" fill="#dfc0f5" stroke="#8f47e4" stroke-width="1.6"/>
<path d="M298.11,335.74 L298.82,335.72 L299.54,335.76 L300.25,335.84 L300.95,335.97 L301.64,336.14 L302.31,336.35 L302.97,336.59 L303.60,336.86 L304.22,337.16 L304.82,337.48 L305.40,337.83 L305.96,338.19 L306.51,338.56 L307.04,338.95 L307.57,339.35 L308.08,339.77 L308.59,340.20 L309.09,340.64 L309.59,341.09 L310.08,341.56 L310.57,342.04 L311.05,342.54 L311.52,343.05 L311.99,343.59 L312.44,344.13 L312.87,344.70 L313.29,345.28 L313.68,345.88 L314.04,346.50 L314.37,347.12 L314.66,347.77 L314.92,348.42 L315.13,349.08 L315.29,349.74 L315.40,350.41 L315.46,351.08 L315.47,351.75 L315.43,352.42 L315.33,353.08 L315.18,353.73 L314.99,354.36 L314.75,354.99 L314.46,355.61 L314.14,356.21 L313.77,356.79 L313.38,357.36 L312.95,357.91 L312.50,358.45 L312.02,358.97 L311.52,359.47 L311.00,359.95 L310.46,360.42 L309.91,360.86 L309.34,361.28 L308.76,361.68 L308.17,362.06 L307.57,362.40 L306.95,362.72 L306.33,363.01 L305.69,363.26 L305.05,363.47 L304.39,363.65 L303.73,363.78 L303.07,363.86 L302.40,363.89 L301.72,363.88 L301.05,363.81 L300.38,363.70 L299.72,363.52 L299.08,363.30 L298.44,363.03 L297.83,362.70 L297.24,362.33 L296.67,361.92 L296.13,361.46 L295.62,360.97 L295.15,360.44 L294.71,359.89 L294.30,359.31 L293.93,358.71 L293.59,358.09 L293.29,357.47 L293.02,356.83 L292.77,356.18 L292.55,355.54 L292.36,354.89 L292.18,354.23 L292.02,353.58 L291.87,352.93 L291.73,352.28 L291.60,351.63 L291.47,350.97 L291.35,350.31 L291.24,349.65 L291.13,348.99 L291.03,348.31 L290.93,347.63 L290.85,346.95 L290.78,346.25 L290.74,345.55 L290.71,344.85 L290.71,344.15 L290.75,343.44 L290.82,342.74 L290.94,342.05 L291.09,341.38 L291.30,340.72 L291.56,340.08 L291.86,339.47 L292.22,338.89 L292.63,338.35 L293.09,337.85 L293.60,337.40 L294.15,337.00 L294.74,336.65 L295.37,336.36 L296.02,336.12 L296.70,335.93 L297.40,335.81Z" fill="#d3a6f3" stroke="#8f47e4" stroke-width="1.6"/>
<path d="M345.83,327.78 L346.72,327.78 L347.62,327.85 L348.50,327.98 L349.38,328.18 L350.23,328.44 L351.07,328.75 L351.88,329.11 L352.66,329.52 L353.41,329.97 L354.14,330.45 L354.83,330.97 L355.50,331.52 L356.14,332.08 L356.75,332.67 L357.34,333.28 L357.92,333.90 L358.47,334.54 L359.01,335.19 L359.54,335.85 L360.06,336.53 L360.56,337.22 L361.05,337.93 L361.53,338.65 L361.99,339.39 L362.44,340.14 L362.87,340.91 L363.27,341.70 L363.64,342.50 L363.97,343.32 L364.27,344.16 L364.53,345.00 L364.74,345.86 L364.89,346.73 L364.99,347.60 L365.04,348.48 L365.02,349.35 L364.94,350.22 L364.80,351.08 L364.60,351.92 L364.34,352.76 L364.02,353.57 L363.65,354.36 L363.23,355.13 L362.75,355.87 L362.24,356.58 L361.68,357.26 L361.09,357.91 L360.47,358.53 L359.81,359.12 L359.14,359.67 L358.44,360.19 L357.72,360.67 L356.99,361.13 L356.23,361.54 L355.46,361.93 L354.68,362.28 L353.89,362.59 L353.07,362.87 L352.25,363.11 L351.41,363.31 L350.56,363.47 L349.70,363.58 L348.83,363.65 L347.96,363.67 L347.07,363.64 L346.19,363.56 L345.31,363.43 L344.44,363.24 L343.57,363.00 L342.73,362.70 L341.91,362.34 L341.12,361.93 L340.37,361.46 L339.66,360.95 L338.99,360.38 L338.37,359.77 L337.80,359.11 L337.30,358.41 L336.84,357.68 L336.45,356.92 L336.12,356.14 L335.84,355.33 L335.62,354.50 L335.45,353.66 L335.32,352.81 L335.24,351.95 L335.19,351.08 L335.17,350.22 L335.18,349.35 L335.20,348.48 L335.24,347.61 L335.29,346.74 L335.35,345.88 L335.42,345.01 L335.48,344.14 L335.55,343.27 L335.61,342.40 L335.69,341.53 L335.77,340.66 L335.86,339.78 L335.97,338.91 L336.09,338.04 L336.25,337.18 L336.43,336.32 L336.65,335.48 L336.92,334.66 L337.23,333.85 L337.59,333.08 L338.00,332.33 L338.47,331.63 L339.00,330.97 L339.58,330.36 L340.22,329.81 L340.91,329.31 L341.64,328.88 L342.42,328.52 L343.24,328.23 L344.08,328.01 L344.95,327.86Z" fill="#e6d2f5" stroke="#8f47e4" stroke-width="1.6"/>
<path d="M244.77,372.94 L245.17,372.96 L245.58,372.99 L245.98,373.04 L246.38,373.10 L246.78,373.18 L247.18,373.28 L247.57,373.40 L247.96,373.53 L248.35,373.68 L248.73,373.84 L249.11,374.01 L249.49,374.20 L249.86,374.41 L250.23,374.63 L250.59,374.86 L250.95,375.11 L251.29,375.37 L251.63,375.64 L251.95,375.93 L252.26,376.23 L252.56,376.55 L252.84,376.87 L253.11,377.21 L253.35,377.56 L253.58,377.93 L253.78,378.30 L253.96,378.68 L254.12,379.07 L254.25,379.47 L254.35,379.88 L254.43,380.29 L254.47,380.70 L254.49,381.11 L254.48,381.53 L254.44,381.95 L254.37,382.36 L254.27,382.76 L254.14,383.17 L253.98,383.56 L253.80,383.94 L253.59,384.31 L253.35,384.67 L253.10,385.02 L252.82,385.35 L252.53,385.66 L252.21,385.95 L251.88,386.23 L251.54,386.48 L251.18,386.72 L250.81,386.93 L250.43,387.13 L250.05,387.30 L249.65,387.45 L249.26,387.57 L248.86,387.68 L248.45,387.76 L248.05,387.82 L247.64,387.87 L247.23,387.89 L246.82,387.89 L246.42,387.87 L246.01,387.84 L245.61,387.78 L245.20,387.71 L244.80,387.62 L244.40,387.52 L244.00,387.40 L243.60,387.26 L243.21,387.11 L242.82,386.95 L242.43,386.77 L242.04,386.57 L241.66,386.37 L241.29,386.15 L240.92,385.91 L240.56,385.66 L240.21,385.40 L239.87,385.12 L239.53,384.83 L239.22,384.53 L238.91,384.22 L238.62,383.89 L238.35,383.55 L238.10,383.20 L237.87,382.84 L237.67,382.47 L237.49,382.09 L237.33,381.71 L237.20,381.31 L237.09,380.91 L237.02,380.51 L236.98,380.10 L236.96,379.69 L236.98,379.28 L237.02,378.87 L237.10,378.46 L237.21,378.06 L237.34,377.66 L237.50,377.27 L237.69,376.89 L237.91,376.53 L238.15,376.17 L238.41,375.83 L238.70,375.50 L239.00,375.19 L239.32,374.90 L239.66,374.63 L240.01,374.37 L240.38,374.14 L240.75,373.92 L241.14,373.73 L241.53,373.56 L241.92,373.41 L242.33,373.28 L242.73,373.17 L243.14,373.09 L243.54,373.02 L243.95,372.98 L244.36,372.95Z" fill="#dfc0f5" stroke="#8f47e4" stroke-width="1.6"/>
<path d="M266.19,377.74 L266.73,377.73 L267.27,377.75 L267.83,377.81 L268.39,377.90 L268.95,378.03 L269.51,378.18 L270.08,378.37 L270.64,378.59 L271.20,378.83 L271.75,379.11 L272.29,379.41 L272.81,379.73 L273.33,380.07 L273.82,380.44 L274.29,380.82 L274.73,381.22 L275.15,381.63 L275.54,382.06 L275.89,382.49 L276.21,382.94 L276.50,383.39 L276.75,383.84 L276.96,384.30 L277.13,384.76 L277.26,385.22 L277.35,385.69 L277.39,386.15 L277.40,386.61 L277.37,387.07 L277.30,387.53 L277.19,387.99 L277.04,388.45 L276.86,388.90 L276.64,389.36 L276.40,389.81 L276.12,390.26 L275.82,390.71 L275.49,391.16 L275.14,391.61 L274.77,392.06 L274.39,392.51 L273.98,392.96 L273.57,393.40 L273.14,393.84 L272.70,394.28 L272.25,394.71 L271.79,395.13 L271.33,395.55 L270.86,395.96 L270.39,396.35 L269.92,396.73 L269.44,397.10 L268.96,397.44 L268.48,397.77 L268.00,398.07 L267.52,398.34 L267.03,398.59 L266.55,398.81 L266.07,398.99 L265.59,399.15 L265.11,399.26 L264.63,399.34 L264.15,399.39 L263.68,399.39 L263.21,399.35 L262.75,399.28 L262.29,399.16 L261.84,399.00 L261.40,398.81 L260.97,398.58 L260.54,398.31 L260.14,398.00 L259.74,397.66 L259.37,397.29 L259.01,396.89 L258.67,396.47 L258.35,396.01 L258.05,395.54 L257.77,395.04 L257.52,394.53 L257.30,394.00 L257.10,393.46 L256.93,392.90 L256.79,392.34 L256.68,391.78 L256.59,391.20 L256.54,390.63 L256.51,390.06 L256.51,389.48 L256.53,388.91 L256.59,388.35 L256.67,387.78 L256.77,387.23 L256.90,386.68 L257.05,386.14 L257.23,385.61 L257.42,385.09 L257.64,384.57 L257.87,384.07 L258.12,383.58 L258.39,383.11 L258.68,382.64 L258.98,382.19 L259.29,381.76 L259.62,381.34 L259.97,380.93 L260.33,380.55 L260.70,380.18 L261.08,379.84 L261.48,379.51 L261.89,379.21 L262.32,378.93 L262.76,378.68 L263.21,378.46 L263.68,378.26 L264.16,378.09 L264.65,377.96 L265.15,377.85 L265.67,377.78Z" fill="#d3a6f3" stroke="#8f47e4" stroke-width="1.6"/>
<path d="M295.96,366.35 L296.64,366.42 L297.30,366.52 L297.96,366.66 L298.60,366.85 L299.21,367.07 L299.81,367.33 L300.38,367.63 L300.91,367.98 L301.42,368.36 L301.89,368.77 L302.33,369.22 L302.73,369.70 L303.10,370.21 L303.43,370.75 L303.73,371.31 L304.00,371.90 L304.23,372.50 L304.43,373.11 L304.60,373.75 L304.75,374.39 L304.87,375.04 L304.97,375.70 L305.04,376.37 L305.10,377.03 L305.12,377.71 L305.13,378.38 L305.11,379.05 L305.07,379.72 L305.00,380.39 L304.91,381.05 L304.78,381.70 L304.63,382.34 L304.44,382.97 L304.21,383.59 L303.96,384.18 L303.66,384.76 L303.32,385.31 L302.95,385.83 L302.54,386.32 L302.09,386.78 L301.61,387.20 L301.09,387.59 L300.54,387.93 L299.96,388.24 L299.36,388.50 L298.74,388.71 L298.10,388.89 L297.44,389.02 L296.78,389.11 L296.11,389.16 L295.43,389.17 L294.76,389.15 L294.09,389.09 L293.43,389.01 L292.77,388.90 L292.12,388.77 L291.48,388.62 L290.84,388.45 L290.22,388.27 L289.60,388.08 L288.98,387.88 L288.37,387.67 L287.77,387.45 L287.17,387.22 L286.57,386.98 L285.97,386.73 L285.38,386.48 L284.79,386.20 L284.21,385.91 L283.63,385.61 L283.06,385.28 L282.51,384.93 L281.97,384.55 L281.45,384.15 L280.96,383.71 L280.50,383.25 L280.07,382.76 L279.69,382.25 L279.34,381.70 L279.04,381.13 L278.80,380.53 L278.61,379.92 L278.47,379.29 L278.40,378.64 L278.38,377.99 L278.42,377.33 L278.53,376.68 L278.68,376.03 L278.89,375.39 L279.15,374.76 L279.46,374.15 L279.81,373.56 L280.20,373.00 L280.62,372.47 L281.07,371.96 L281.55,371.48 L282.05,371.02 L282.56,370.60 L283.09,370.21 L283.63,369.84 L284.17,369.49 L284.73,369.17 L285.29,368.87 L285.85,368.59 L286.42,368.32 L287.00,368.08 L287.58,367.84 L288.17,367.62 L288.77,367.42 L289.38,367.22 L290.00,367.05 L290.62,366.88 L291.26,366.74 L291.91,366.61 L292.58,366.50 L293.24,366.41 L293.92,366.35 L294.60,366.32 L295.28,366.32Z" fill="#dfc0f5" stroke="#8f47e4" stroke-width="1.6"/>
<path d="M323.04,358.14 L323.84,358.20 L324.64,358.28 L325.44,358.39 L326.22,358.53 L326.99,358.70 L327.76,358.89 L328.51,359.10 L329.26,359.34 L329.99,359.61 L330.72,359.91 L331.43,360.23 L332.14,360.59 L332.83,360.97 L333.50,361.40 L334.16,361.85 L334.79,362.35 L335.40,362.88 L335.98,363.44 L336.52,364.04 L337.03,364.68 L337.49,365.35 L337.90,366.04 L338.26,366.77 L338.56,367.51 L338.80,368.27 L338.98,369.05 L339.10,369.84 L339.15,370.62 L339.14,371.41 L339.06,372.20 L338.93,372.98 L338.74,373.74 L338.49,374.50 L338.20,375.24 L337.86,375.96 L337.49,376.66 L337.09,377.35 L336.66,378.03 L336.20,378.69 L335.74,379.34 L335.26,379.97 L334.77,380.60 L334.27,381.23 L333.77,381.84 L333.27,382.46 L332.77,383.07 L332.26,383.68 L331.74,384.29 L331.22,384.89 L330.69,385.48 L330.14,386.07 L329.58,386.64 L329.00,387.19 L328.39,387.71 L327.76,388.21 L327.11,388.66 L326.43,389.08 L325.73,389.45 L325.00,389.76 L324.25,390.01 L323.49,390.20 L322.70,390.32 L321.91,390.37 L321.12,390.34 L320.32,390.25 L319.54,390.07 L318.77,389.83 L318.02,389.51 L317.30,389.13 L316.61,388.69 L315.96,388.19 L315.35,387.64 L314.79,387.04 L314.27,386.40 L313.81,385.73 L313.39,385.03 L313.02,384.32 L312.69,383.58 L312.41,382.83 L312.17,382.08 L311.96,381.31 L311.78,380.55 L311.62,379.78 L311.49,379.02 L311.37,378.25 L311.27,377.48 L311.18,376.71 L311.10,375.93 L311.02,375.15 L310.95,374.37 L310.88,373.57 L310.83,372.78 L310.78,371.97 L310.75,371.16 L310.74,370.34 L310.75,369.52 L310.79,368.70 L310.86,367.89 L310.96,367.07 L311.11,366.27 L311.30,365.49 L311.54,364.72 L311.83,363.98 L312.17,363.27 L312.57,362.60 L313.02,361.96 L313.52,361.37 L314.07,360.82 L314.67,360.32 L315.31,359.88 L315.99,359.48 L316.70,359.14 L317.44,358.85 L318.21,358.62 L319.00,358.43 L319.79,358.29 L320.60,358.19 L321.41,358.14 L322.23,358.12Z" fill="#d3a6f3" stroke="#8f47e4" stroke-width="1.6"/>
<path d="M234.23,392.01 L234.50,392.04 L234.78,392.09 L235.05,392.15 L235.32,392.23 L235.57,392.32 L235.82,392.43 L236.06,392.55 L236.29,392.68 L236.51,392.83 L236.72,392.99 L236.91,393.16 L237.10,393.34 L237.26,393.53 L237.42,393.73 L237.56,393.94 L237.69,394.16 L237.80,394.39 L237.91,394.62 L238.00,394.86 L238.08,395.11 L238.14,395.36 L238.20,395.62 L238.25,395.88 L238.29,396.14 L238.32,396.41 L238.35,396.68 L238.36,396.95 L238.37,397.22 L238.37,397.50 L238.36,397.77 L238.35,398.04 L238.33,398.31 L238.30,398.58 L238.26,398.85 L238.22,399.11 L238.17,399.38 L238.10,399.63 L238.03,399.88 L237.95,400.13 L237.85,400.37 L237.75,400.60 L237.63,400.83 L237.50,401.05 L237.36,401.25 L237.20,401.45 L237.03,401.64 L236.85,401.82 L236.65,401.98 L236.44,402.13 L236.22,402.27 L235.99,402.40 L235.75,402.51 L235.49,402.61 L235.23,402.70 L234.97,402.77 L234.69,402.82 L234.41,402.86 L234.13,402.88 L233.85,402.89 L233.57,402.88 L233.29,402.85 L233.01,402.81 L232.74,402.76 L232.47,402.69 L232.21,402.60 L231.97,402.50 L231.73,402.39 L231.50,402.26 L231.29,402.12 L231.09,401.96 L230.90,401.80 L230.73,401.62 L230.57,401.43 L230.42,401.23 L230.29,401.02 L230.17,400.80 L230.07,400.58 L229.97,400.34 L229.89,400.10 L229.82,399.85 L229.76,399.60 L229.71,399.34 L229.67,399.07 L229.64,398.80 L229.62,398.53 L229.60,398.25 L229.59,397.98 L229.59,397.70 L229.59,397.42 L229.60,397.14 L229.62,396.86 L229.64,396.58 L229.67,396.30 L229.71,396.03 L229.75,395.76 L229.80,395.49 L229.86,395.23 L229.93,394.97 L230.01,394.72 L230.09,394.48 L230.19,394.24 L230.30,394.01 L230.43,393.79 L230.56,393.58 L230.71,393.38 L230.87,393.19 L231.04,393.02 L231.23,392.85 L231.43,392.70 L231.64,392.56 L231.86,392.44 L232.10,392.33 L232.34,392.24 L232.59,392.16 L232.85,392.09 L233.12,392.05 L233.39,392.01 L233.67,392.00 L233.95,392.00Z" fill="#dfc0f5" stroke="#8f47e4" stroke-width="1.6"/>
<path d="M246.93,392.82 L247.27,392.84 L247.61,392.87 L247.96,392.92 L248.30,392.98 L248.64,393.05 L248.99,393.14 L249.33,393.23 L249.68,393.34 L250.02,393.45 L250.36,393.58 L250.70,393.72 L251.04,393.86 L251.38,394.02 L251.71,394.18 L252.04,394.36 L252.36,394.55 L252.68,394.75 L252.99,394.95 L253.29,395.17 L253.58,395.40 L253.86,395.65 L254.13,395.90 L254.39,396.17 L254.63,396.45 L254.85,396.73 L255.06,397.03 L255.25,397.34 L255.41,397.66 L255.56,397.99 L255.68,398.33 L255.78,398.67 L255.85,399.02 L255.90,399.37 L255.92,399.72 L255.92,400.08 L255.89,400.43 L255.83,400.78 L255.75,401.13 L255.64,401.47 L255.51,401.80 L255.36,402.13 L255.18,402.44 L254.98,402.74 L254.76,403.02 L254.52,403.29 L254.26,403.54 L253.99,403.78 L253.69,404.00 L253.39,404.20 L253.07,404.38 L252.75,404.55 L252.41,404.69 L252.07,404.82 L251.72,404.93 L251.36,405.02 L251.00,405.09 L250.64,405.15 L250.27,405.19 L249.90,405.22 L249.54,405.23 L249.17,405.23 L248.80,405.22 L248.44,405.19 L248.07,405.16 L247.71,405.11 L247.35,405.05 L246.99,404.98 L246.64,404.90 L246.29,404.81 L245.95,404.72 L245.61,404.61 L245.27,404.49 L244.95,404.36 L244.62,404.22 L244.31,404.06 L244.00,403.90 L243.70,403.72 L243.41,403.53 L243.13,403.32 L242.86,403.11 L242.61,402.87 L242.37,402.63 L242.14,402.36 L241.93,402.09 L241.74,401.80 L241.56,401.49 L241.40,401.18 L241.27,400.85 L241.15,400.51 L241.06,400.15 L240.99,399.79 L240.94,399.43 L240.91,399.05 L240.91,398.68 L240.93,398.30 L240.97,397.92 L241.04,397.54 L241.13,397.17 L241.24,396.80 L241.38,396.44 L241.53,396.09 L241.71,395.75 L241.90,395.42 L242.11,395.11 L242.34,394.82 L242.58,394.55 L242.84,394.29 L243.11,394.05 L243.39,393.84 L243.68,393.64 L243.98,393.47 L244.29,393.32 L244.60,393.18 L244.92,393.07 L245.25,392.98 L245.58,392.91 L245.91,392.86 L246.25,392.83 L246.59,392.82Z" fill="#d3a6f3" stroke="#8f47e4" stroke-width="1.6"/>
<path d="M367.09,362.14 L368.05,362.29 L369.00,362.52 L369.93,362.81 L370.84,363.17 L371.72,363.60 L372.57,364.08 L373.39,364.62 L374.18,365.21 L374.92,365.85 L375.63,366.53 L376.30,367.24 L376.94,367.98 L377.54,368.75 L378.11,369.53 L378.64,370.33 L379.15,371.14 L379.64,371.96 L380.10,372.79 L380.55,373.62 L380.98,374.46 L381.41,375.31 L381.82,376.16 L382.22,377.02 L382.62,377.88 L383.00,378.76 L383.38,379.65 L383.74,380.55 L384.08,381.47 L384.39,382.40 L384.68,383.34 L384.93,384.30 L385.15,385.27 L385.31,386.24 L385.42,387.23 L385.46,388.21 L385.45,389.19 L385.35,390.16 L385.19,391.11 L384.94,392.04 L384.62,392.94 L384.21,393.81 L383.72,394.63 L383.16,395.40 L382.52,396.12 L381.81,396.78 L381.04,397.37 L380.21,397.89 L379.33,398.35 L378.41,398.73 L377.45,399.05 L376.47,399.29 L375.46,399.47 L374.45,399.58 L373.43,399.63 L372.42,399.62 L371.41,399.55 L370.41,399.44 L369.42,399.29 L368.45,399.10 L367.50,398.87 L366.56,398.61 L365.64,398.33 L364.74,398.03 L363.85,397.70 L362.98,397.35 L362.11,396.98 L361.26,396.60 L360.41,396.19 L359.58,395.77 L358.74,395.32 L357.92,394.84 L357.10,394.34 L356.29,393.81 L355.50,393.25 L354.71,392.66 L353.95,392.03 L353.22,391.37 L352.51,390.67 L351.84,389.94 L351.20,389.17 L350.61,388.37 L350.07,387.54 L349.59,386.68 L349.16,385.79 L348.80,384.88 L348.50,383.95 L348.27,383.01 L348.11,382.06 L348.02,381.11 L347.99,380.15 L348.03,379.19 L348.14,378.24 L348.31,377.30 L348.54,376.37 L348.82,375.46 L349.16,374.56 L349.55,373.67 L349.98,372.81 L350.46,371.96 L350.97,371.14 L351.52,370.34 L352.11,369.56 L352.72,368.80 L353.37,368.07 L354.05,367.37 L354.76,366.69 L355.49,366.05 L356.26,365.44 L357.05,364.87 L357.86,364.35 L358.71,363.86 L359.57,363.43 L360.46,363.05 L361.37,362.72 L362.30,362.46 L363.24,362.26 L364.20,362.12 L365.16,362.06 L366.13,362.06Z" fill="#b97af0" stroke="#8f47e4" stroke-width="1.6"/>
<path d="M400.19,342.90 L401.21,342.89 L402.23,342.95 L403.24,343.06 L404.23,343.21 L405.20,343.40 L406.15,343.63 L407.08,343.89 L407.99,344.18 L408.87,344.49 L409.73,344.83 L410.57,345.18 L411.40,345.55 L412.21,345.94 L413.01,346.34 L413.81,346.77 L414.60,347.22 L415.39,347.69 L416.18,348.19 L416.96,348.72 L417.75,349.28 L418.53,349.87 L419.30,350.50 L420.06,351.16 L420.81,351.86 L421.53,352.60 L422.23,353.37 L422.89,354.18 L423.51,355.01 L424.08,355.87 L424.60,356.76 L425.06,357.66 L425.44,358.58 L425.76,359.51 L426.00,360.45 L426.17,361.38 L426.25,362.32 L426.26,363.24 L426.18,364.16 L426.03,365.06 L425.81,365.94 L425.52,366.81 L425.16,367.66 L424.74,368.50 L424.26,369.31 L423.74,370.11 L423.17,370.89 L422.56,371.65 L421.92,372.40 L421.25,373.13 L420.55,373.84 L419.83,374.54 L419.09,375.23 L418.32,375.89 L417.55,376.53 L416.75,377.15 L415.94,377.74 L415.11,378.29 L414.27,378.81 L413.41,379.29 L412.54,379.71 L411.65,380.09 L410.75,380.40 L409.83,380.64 L408.91,380.82 L407.98,380.93 L407.05,380.95 L406.11,380.90 L405.18,380.77 L404.26,380.56 L403.36,380.26 L402.47,379.90 L401.60,379.46 L400.77,378.95 L399.96,378.38 L399.19,377.75 L398.46,377.07 L397.77,376.34 L397.13,375.58 L396.52,374.78 L395.95,373.97 L395.43,373.13 L394.94,372.28 L394.49,371.42 L394.06,370.55 L393.66,369.68 L393.29,368.81 L392.93,367.93 L392.59,367.06 L392.26,366.18 L391.94,365.30 L391.63,364.41 L391.33,363.51 L391.03,362.61 L390.75,361.69 L390.47,360.76 L390.22,359.82 L389.98,358.86 L389.77,357.89 L389.59,356.91 L389.45,355.92 L389.35,354.92 L389.31,353.93 L389.33,352.94 L389.41,351.96 L389.57,351.00 L389.80,350.07 L390.10,349.16 L390.49,348.30 L390.96,347.49 L391.51,346.73 L392.13,346.03 L392.83,345.39 L393.59,344.82 L394.41,344.33 L395.29,343.91 L396.21,343.56 L397.17,343.29 L398.16,343.09 L399.17,342.96Z" fill="#b97af0" stroke="#8f47e4" stroke-width="1.6"/>
<path d="M408.63,385.82 L409.87,385.90 L411.12,386.05 L412.34,386.27 L413.55,386.55 L414.73,386.89 L415.87,387.28 L416.98,387.70 L418.06,388.16 L419.11,388.65 L420.12,389.17 L421.11,389.70 L422.07,390.26 L423.01,390.83 L423.94,391.42 L424.85,392.02 L425.76,392.65 L426.67,393.29 L427.57,393.96 L428.48,394.65 L429.39,395.38 L430.29,396.14 L431.20,396.93 L432.09,397.76 L432.97,398.62 L433.83,399.53 L434.65,400.47 L435.45,401.45 L436.19,402.47 L436.88,403.52 L437.50,404.59 L438.05,405.69 L438.51,406.81 L438.89,407.95 L439.18,409.09 L439.36,410.23 L439.45,411.38 L439.43,412.51 L439.31,413.63 L439.09,414.74 L438.78,415.83 L438.37,416.90 L437.88,417.94 L437.31,418.96 L436.67,419.95 L435.96,420.91 L435.20,421.85 L434.39,422.76 L433.54,423.65 L432.65,424.51 L431.73,425.35 L430.79,426.16 L429.83,426.94 L428.85,427.70 L427.85,428.42 L426.84,429.11 L425.81,429.76 L424.78,430.37 L423.73,430.93 L422.66,431.43 L421.59,431.88 L420.50,432.26 L419.40,432.57 L418.29,432.80 L417.16,432.95 L416.04,433.01 L414.91,432.98 L413.78,432.86 L412.66,432.64 L411.55,432.33 L410.46,431.93 L409.39,431.44 L408.35,430.86 L407.35,430.20 L406.39,429.46 L405.48,428.66 L404.62,427.79 L403.81,426.87 L403.06,425.90 L402.37,424.90 L401.73,423.87 L401.15,422.81 L400.62,421.74 L400.14,420.65 L399.70,419.56 L399.30,418.46 L398.93,417.36 L398.60,416.27 L398.28,415.17 L397.98,414.07 L397.70,412.96 L397.42,411.86 L397.15,410.74 L396.89,409.61 L396.63,408.48 L396.38,407.33 L396.15,406.16 L395.93,404.98 L395.74,403.79 L395.58,402.58 L395.45,401.36 L395.38,400.14 L395.36,398.92 L395.40,397.71 L395.52,396.51 L395.71,395.34 L395.99,394.20 L396.37,393.10 L396.83,392.05 L397.40,391.06 L398.06,390.13 L398.81,389.29 L399.65,388.53 L400.58,387.86 L401.58,387.28 L402.65,386.79 L403.77,386.41 L404.94,386.12 L406.15,385.93 L407.38,385.83Z" fill="#b97af0" stroke="#8f47e4" stroke-width="1.6"/>
<path d="M468.19,390.17 L469.43,390.25 L470.65,390.39 L471.88,390.61 L473.09,390.89 L474.29,391.24 L475.47,391.66 L476.64,392.14 L477.79,392.68 L478.92,393.28 L480.02,393.94 L481.10,394.65 L482.14,395.42 L483.14,396.23 L484.11,397.10 L485.03,398.01 L485.90,398.96 L486.72,399.95 L487.49,400.97 L488.19,402.03 L488.83,403.13 L489.41,404.25 L489.91,405.39 L490.34,406.56 L490.70,407.75 L490.99,408.95 L491.19,410.17 L491.33,411.40 L491.39,412.63 L491.38,413.87 L491.29,415.11 L491.13,416.36 L490.91,417.59 L490.62,418.82 L490.27,420.04 L489.86,421.24 L489.40,422.43 L488.88,423.60 L488.31,424.74 L487.69,425.87 L487.02,426.96 L486.32,428.02 L485.56,429.06 L484.77,430.05 L483.94,431.01 L483.07,431.93 L482.16,432.81 L481.22,433.64 L480.24,434.43 L479.22,435.17 L478.17,435.85 L477.09,436.48 L475.97,437.05 L474.83,437.57 L473.65,438.02 L472.46,438.41 L471.23,438.74 L469.99,439.00 L468.74,439.19 L467.47,439.31 L466.20,439.36 L464.92,439.34 L463.65,439.25 L462.39,439.08 L461.14,438.84 L459.91,438.52 L458.70,438.13 L457.52,437.68 L456.37,437.15 L455.26,436.55 L454.19,435.89 L453.17,435.16 L452.19,434.37 L451.26,433.52 L450.38,432.62 L449.56,431.67 L448.79,430.67 L448.07,429.63 L447.41,428.55 L446.80,427.43 L446.25,426.28 L445.76,425.11 L445.31,423.91 L444.93,422.69 L444.59,421.45 L444.32,420.21 L444.09,418.95 L443.92,417.69 L443.81,416.43 L443.76,415.17 L443.76,413.91 L443.82,412.65 L443.93,411.41 L444.11,410.17 L444.35,408.95 L444.65,407.74 L445.02,406.56 L445.45,405.39 L445.94,404.24 L446.49,403.12 L447.10,402.03 L447.78,400.97 L448.51,399.94 L449.30,398.95 L450.15,397.99 L451.04,397.08 L451.99,396.21 L452.98,395.39 L454.01,394.62 L455.07,393.90 L456.18,393.24 L457.31,392.64 L458.46,392.10 L459.64,391.62 L460.83,391.21 L462.04,390.86 L463.26,390.58 L464.49,390.38 L465.72,390.24 L466.96,390.17Z" fill="#d3aaf0" stroke="#8f47e4" stroke-width="1.6"/>
<path d="M461.42,448.77 L462.69,448.72 L463.95,448.76 L465.22,448.87 L466.47,449.04 L467.71,449.28 L468.94,449.57 L470.15,449.90 L471.35,450.27 L472.53,450.65 L473.70,451.06 L474.86,451.48 L476.02,451.91 L477.18,452.34 L478.33,452.77 L479.50,453.20 L480.67,453.64 L481.84,454.08 L483.03,454.53 L484.23,454.99 L485.42,455.47 L486.62,455.98 L487.82,456.52 L489.00,457.09 L490.16,457.71 L491.29,458.37 L492.37,459.09 L493.41,459.86 L494.37,460.69 L495.27,461.57 L496.07,462.51 L496.78,463.51 L497.38,464.55 L497.86,465.64 L498.23,466.77 L498.47,467.93 L498.59,469.11 L498.57,470.30 L498.44,471.50 L498.18,472.70 L497.81,473.89 L497.34,475.07 L496.76,476.21 L496.10,477.33 L495.35,478.41 L494.54,479.45 L493.68,480.45 L492.76,481.41 L491.81,482.32 L490.83,483.20 L489.82,484.03 L488.81,484.82 L487.78,485.58 L486.74,486.30 L485.70,487.00 L484.66,487.66 L483.61,488.30 L482.55,488.91 L481.49,489.49 L480.41,490.05 L479.32,490.58 L478.21,491.08 L477.07,491.55 L475.92,491.98 L474.74,492.36 L473.53,492.70 L472.30,492.98 L471.04,493.20 L469.77,493.36 L468.48,493.45 L467.18,493.46 L465.87,493.39 L464.57,493.24 L463.28,493.01 L462.01,492.69 L460.76,492.29 L459.55,491.80 L458.39,491.23 L457.27,490.59 L456.20,489.87 L455.20,489.08 L454.25,488.23 L453.38,487.33 L452.56,486.37 L451.82,485.36 L451.13,484.32 L450.51,483.25 L449.95,482.14 L449.45,481.01 L449.00,479.86 L448.59,478.70 L448.24,477.51 L447.92,476.31 L447.65,475.10 L447.41,473.88 L447.21,472.65 L447.05,471.40 L446.93,470.14 L446.86,468.88 L446.82,467.61 L446.84,466.33 L446.91,465.05 L447.03,463.77 L447.22,462.50 L447.48,461.24 L447.81,460.01 L448.22,458.79 L448.71,457.62 L449.27,456.48 L449.92,455.40 L450.65,454.37 L451.46,453.42 L452.35,452.53 L453.31,451.74 L454.33,451.03 L455.41,450.41 L456.55,449.89 L457.72,449.46 L458.93,449.14 L460.17,448.91Z" fill="#b97af0" stroke="#8f47e4" stroke-width="1.6"/>
<path d="M506.73,489.39 L508.08,489.46 L509.43,489.60 L510.77,489.81 L512.11,490.09 L513.43,490.42 L514.74,490.82 L516.03,491.28 L517.29,491.80 L518.54,492.37 L519.75,492.99 L520.94,493.68 L522.09,494.41 L523.20,495.20 L524.28,496.03 L525.31,496.92 L526.30,497.85 L527.24,498.83 L528.12,499.86 L528.95,500.93 L529.72,502.04 L530.43,503.19 L531.08,504.37 L531.66,505.59 L532.18,506.84 L532.62,508.12 L532.99,509.42 L533.28,510.74 L533.50,512.08 L533.64,513.42 L533.70,514.77 L533.69,516.13 L533.60,517.48 L533.43,518.83 L533.18,520.16 L532.86,521.48 L532.47,522.78 L532.00,524.06 L531.46,525.31 L530.86,526.53 L530.19,527.72 L529.46,528.88 L528.67,530.00 L527.83,531.07 L526.93,532.11 L525.98,533.09 L524.99,534.04 L523.95,534.93 L522.87,535.77 L521.76,536.56 L520.61,537.30 L519.42,537.97 L518.21,538.59 L516.98,539.15 L515.72,539.65 L514.44,540.08 L513.14,540.44 L511.83,540.74 L510.51,540.96 L509.18,541.11 L507.84,541.19 L506.50,541.20 L505.16,541.13 L503.82,540.98 L502.49,540.76 L501.17,540.46 L499.87,540.09 L498.58,539.64 L497.32,539.13 L496.08,538.54 L494.87,537.89 L493.69,537.17 L492.55,536.39 L491.46,535.55 L490.40,534.66 L489.39,533.72 L488.43,532.73 L487.53,531.69 L486.68,530.62 L485.89,529.50 L485.16,528.36 L484.49,527.18 L483.89,525.97 L483.35,524.74 L482.88,523.49 L482.48,522.22 L482.14,520.93 L481.88,519.63 L481.68,518.31 L481.55,516.99 L481.50,515.65 L481.51,514.32 L481.59,512.98 L481.74,511.64 L481.97,510.30 L482.25,508.97 L482.61,507.66 L483.03,506.35 L483.52,505.06 L484.07,503.80 L484.69,502.56 L485.36,501.36 L486.10,500.19 L486.89,499.06 L487.74,497.97 L488.65,496.94 L489.61,495.96 L490.61,495.04 L491.66,494.17 L492.76,493.38 L493.90,492.65 L495.07,491.99 L496.28,491.40 L497.51,490.89 L498.78,490.45 L500.07,490.09 L501.38,489.80 L502.70,489.59 L504.03,489.45 L505.38,489.38Z" fill="#b97af0" stroke="#8f47e4" stroke-width="1.6"/>
<path d="M506.40,547.82 L508.08,547.86 L509.76,547.98 L511.44,548.18 L513.10,548.46 L514.75,548.80 L516.39,549.21 L518.01,549.68 L519.61,550.21 L521.20,550.79 L522.76,551.44 L524.31,552.15 L525.83,552.91 L527.33,553.74 L528.80,554.63 L530.23,555.59 L531.64,556.62 L532.99,557.71 L534.30,558.88 L535.55,560.11 L536.74,561.41 L537.84,562.77 L538.86,564.20 L539.78,565.67 L540.60,567.19 L541.30,568.75 L541.87,570.33 L542.31,571.94 L542.61,573.55 L542.77,575.16 L542.78,576.77 L542.65,578.35 L542.37,579.91 L541.96,581.44 L541.40,582.93 L540.72,584.37 L539.93,585.78 L539.02,587.14 L538.02,588.46 L536.94,589.74 L535.79,590.99 L534.58,592.21 L533.33,593.41 L532.04,594.60 L530.73,595.77 L529.42,596.94 L528.09,598.12 L526.77,599.30 L525.45,600.49 L524.14,601.69 L522.83,602.90 L521.53,604.12 L520.24,605.33 L518.94,606.54 L517.64,607.73 L516.32,608.89 L514.99,610.01 L513.64,611.07 L512.26,612.06 L510.84,612.97 L509.40,613.77 L507.92,614.46 L506.41,615.02 L504.87,615.44 L503.30,615.70 L501.72,615.81 L500.12,615.76 L498.51,615.54 L496.92,615.16 L495.34,614.62 L493.79,613.92 L492.28,613.07 L490.83,612.09 L489.44,610.98 L488.12,609.76 L486.89,608.44 L485.76,607.04 L484.72,605.57 L483.78,604.05 L482.94,602.48 L482.22,600.88 L481.59,599.27 L481.06,597.65 L480.63,596.02 L480.29,594.39 L480.04,592.77 L479.86,591.16 L479.75,589.55 L479.70,587.95 L479.71,586.35 L479.76,584.75 L479.86,583.14 L480.00,581.53 L480.17,579.90 L480.38,578.26 L480.63,576.60 L480.91,574.93 L481.24,573.24 L481.60,571.55 L482.02,569.85 L482.49,568.15 L483.01,566.45 L483.60,564.78 L484.26,563.13 L485.00,561.51 L485.81,559.95 L486.70,558.45 L487.68,557.02 L488.74,555.67 L489.88,554.41 L491.10,553.25 L492.40,552.20 L493.76,551.26 L495.20,550.43 L496.68,549.72 L498.22,549.13 L499.81,548.65 L501.42,548.29 L503.07,548.03 L504.73,547.88Z" fill="#d3aaf0" stroke="#8f47e4" stroke-width="1.6"/>
<path d="M246.59,432.02 L247.04,432.06 L247.50,432.11 L247.95,432.19 L248.40,432.28 L248.85,432.40 L249.29,432.52 L249.74,432.67 L250.18,432.83 L250.62,433.01 L251.05,433.20 L251.48,433.41 L251.91,433.63 L252.33,433.87 L252.74,434.12 L253.15,434.39 L253.55,434.67 L253.93,434.97 L254.31,435.28 L254.67,435.61 L255.01,435.95 L255.34,436.31 L255.65,436.68 L255.94,437.07 L256.20,437.46 L256.43,437.87 L256.64,438.29 L256.82,438.72 L256.97,439.16 L257.09,439.60 L257.18,440.06 L257.23,440.51 L257.24,440.97 L257.23,441.43 L257.17,441.89 L257.08,442.35 L256.96,442.80 L256.81,443.25 L256.62,443.69 L256.40,444.12 L256.15,444.54 L255.88,444.94 L255.57,445.33 L255.25,445.70 L254.90,446.06 L254.53,446.39 L254.15,446.71 L253.75,447.00 L253.33,447.27 L252.91,447.51 L252.48,447.74 L252.04,447.94 L251.59,448.11 L251.14,448.26 L250.69,448.39 L250.23,448.49 L249.78,448.56 L249.32,448.62 L248.87,448.65 L248.42,448.66 L247.97,448.64 L247.52,448.61 L247.07,448.55 L246.63,448.48 L246.18,448.38 L245.74,448.27 L245.30,448.13 L244.87,447.98 L244.43,447.81 L244.00,447.63 L243.57,447.42 L243.15,447.20 L242.73,446.97 L242.31,446.71 L241.90,446.44 L241.49,446.16 L241.10,445.86 L240.71,445.54 L240.34,445.21 L239.97,444.86 L239.63,444.50 L239.30,444.13 L238.99,443.74 L238.69,443.34 L238.43,442.93 L238.18,442.51 L237.97,442.08 L237.78,441.64 L237.62,441.19 L237.50,440.74 L237.41,440.28 L237.35,439.82 L237.32,439.36 L237.33,438.90 L237.38,438.44 L237.46,437.98 L237.57,437.53 L237.72,437.09 L237.90,436.66 L238.11,436.24 L238.35,435.83 L238.63,435.44 L238.92,435.07 L239.25,434.71 L239.59,434.37 L239.96,434.06 L240.34,433.76 L240.74,433.48 L241.15,433.23 L241.58,433.00 L242.02,432.80 L242.46,432.62 L242.91,432.46 L243.36,432.33 L243.82,432.21 L244.28,432.13 L244.74,432.06 L245.21,432.02 L245.67,432.00 L246.13,432.00Z" fill="#f2a6c8" stroke="#f77ab2" stroke-width="1.6"/>
<path d="M236.32,451.19 L237.22,451.23 L238.11,451.30 L239.00,451.41 L239.87,451.56 L240.73,451.76 L241.56,452.01 L242.37,452.31 L243.15,452.66 L243.88,453.06 L244.58,453.51 L245.22,454.01 L245.82,454.57 L246.37,455.17 L246.87,455.82 L247.31,456.51 L247.69,457.24 L248.03,458.00 L248.31,458.79 L248.55,459.61 L248.74,460.44 L248.90,461.30 L249.02,462.16 L249.11,463.03 L249.17,463.91 L249.22,464.79 L249.24,465.66 L249.25,466.54 L249.25,467.41 L249.25,468.27 L249.23,469.13 L249.21,469.99 L249.18,470.84 L249.14,471.69 L249.08,472.54 L249.01,473.38 L248.92,474.23 L248.81,475.06 L248.66,475.90 L248.49,476.73 L248.27,477.55 L248.01,478.35 L247.70,479.15 L247.35,479.92 L246.94,480.67 L246.47,481.38 L245.95,482.06 L245.38,482.70 L244.76,483.29 L244.09,483.83 L243.37,484.31 L242.61,484.72 L241.81,485.06 L240.99,485.33 L240.14,485.53 L239.28,485.65 L238.41,485.70 L237.54,485.66 L236.67,485.56 L235.80,485.39 L234.96,485.15 L234.13,484.84 L233.32,484.49 L232.53,484.08 L231.77,483.63 L231.04,483.14 L230.33,482.61 L229.64,482.07 L228.98,481.50 L228.34,480.91 L227.73,480.32 L227.12,479.71 L226.54,479.10 L225.97,478.48 L225.41,477.86 L224.86,477.23 L224.32,476.60 L223.80,475.96 L223.29,475.31 L222.79,474.64 L222.31,473.96 L221.85,473.27 L221.42,472.55 L221.01,471.81 L220.64,471.05 L220.30,470.27 L220.00,469.47 L219.74,468.64 L219.54,467.80 L219.38,466.93 L219.28,466.06 L219.24,465.17 L219.26,464.29 L219.33,463.40 L219.47,462.52 L219.66,461.65 L219.91,460.79 L220.22,459.96 L220.57,459.16 L220.98,458.39 L221.44,457.66 L221.93,456.96 L222.47,456.31 L223.05,455.69 L223.65,455.13 L224.29,454.60 L224.96,454.12 L225.65,453.69 L226.36,453.29 L227.10,452.94 L227.86,452.62 L228.63,452.33 L229.43,452.08 L230.24,451.87 L231.07,451.68 L231.92,451.52 L232.78,451.39 L233.65,451.30 L234.53,451.23 L235.42,451.19Z" fill="#f2a6c8" stroke="#f77ab2" stroke-width="1.6"/>
<path d="M263.99,481.83 L264.82,481.88 L265.65,481.92 L266.48,481.97 L267.32,482.01 L268.16,482.06 L269.01,482.12 L269.86,482.19 L270.72,482.27 L271.58,482.38 L272.44,482.52 L273.30,482.69 L274.14,482.90 L274.98,483.16 L275.79,483.47 L276.58,483.83 L277.34,484.24 L278.05,484.71 L278.71,485.24 L279.32,485.82 L279.87,486.46 L280.35,487.14 L280.75,487.86 L281.09,488.63 L281.34,489.42 L281.51,490.24 L281.60,491.08 L281.62,491.93 L281.56,492.78 L281.43,493.63 L281.23,494.48 L280.97,495.31 L280.65,496.13 L280.29,496.92 L279.88,497.70 L279.44,498.45 L278.97,499.19 L278.47,499.90 L277.96,500.59 L277.43,501.26 L276.90,501.92 L276.35,502.57 L275.80,503.20 L275.24,503.83 L274.68,504.44 L274.11,505.05 L273.53,505.66 L272.94,506.25 L272.33,506.84 L271.71,507.41 L271.07,507.97 L270.40,508.51 L269.71,509.03 L269.00,509.51 L268.26,509.96 L267.50,510.38 L266.71,510.74 L265.90,511.05 L265.07,511.31 L264.23,511.51 L263.37,511.64 L262.51,511.70 L261.64,511.70 L260.78,511.62 L259.92,511.48 L259.09,511.27 L258.26,511.00 L257.47,510.66 L256.70,510.26 L255.96,509.82 L255.25,509.32 L254.58,508.78 L253.94,508.21 L253.33,507.60 L252.76,506.97 L252.23,506.31 L251.72,505.63 L251.24,504.94 L250.79,504.23 L250.37,503.51 L249.96,502.78 L249.58,502.03 L249.22,501.28 L248.87,500.51 L248.55,499.73 L248.25,498.94 L247.97,498.14 L247.72,497.32 L247.50,496.48 L247.31,495.64 L247.16,494.78 L247.05,493.92 L246.98,493.04 L246.97,492.17 L247.01,491.30 L247.11,490.43 L247.27,489.58 L247.49,488.75 L247.78,487.94 L248.13,487.17 L248.55,486.43 L249.03,485.74 L249.57,485.10 L250.17,484.51 L250.82,483.97 L251.52,483.49 L252.26,483.08 L253.03,482.72 L253.83,482.42 L254.65,482.18 L255.49,481.99 L256.35,481.85 L257.21,481.75 L258.07,481.69 L258.93,481.66 L259.78,481.66 L260.63,481.68 L261.48,481.71 L262.32,481.74 L263.16,481.79Z" fill="#f2a6c8" stroke="#f77ab2" stroke-width="1.6"/>
<path d="M225.83,488.35 L226.74,488.37 L227.65,488.44 L228.57,488.55 L229.47,488.70 L230.37,488.90 L231.25,489.15 L232.10,489.45 L232.92,489.79 L233.71,490.19 L234.45,490.63 L235.14,491.12 L235.78,491.66 L236.37,492.24 L236.90,492.86 L237.38,493.52 L237.80,494.22 L238.16,494.95 L238.48,495.72 L238.74,496.50 L238.96,497.32 L239.13,498.14 L239.28,498.99 L239.39,499.85 L239.48,500.72 L239.55,501.59 L239.61,502.47 L239.66,503.36 L239.70,504.24 L239.74,505.13 L239.77,506.02 L239.81,506.91 L239.83,507.80 L239.86,508.69 L239.87,509.58 L239.87,510.47 L239.85,511.35 L239.81,512.24 L239.73,513.11 L239.63,513.97 L239.48,514.83 L239.28,515.67 L239.04,516.48 L238.74,517.28 L238.38,518.05 L237.96,518.78 L237.48,519.47 L236.94,520.12 L236.34,520.72 L235.69,521.26 L234.98,521.75 L234.23,522.17 L233.44,522.53 L232.61,522.81 L231.76,523.02 L230.88,523.17 L230.00,523.24 L229.11,523.23 L228.21,523.16 L227.33,523.03 L226.46,522.83 L225.60,522.57 L224.76,522.26 L223.94,521.90 L223.15,521.49 L222.38,521.05 L221.64,520.58 L220.91,520.08 L220.21,519.56 L219.53,519.02 L218.86,518.46 L218.21,517.90 L217.58,517.32 L216.95,516.74 L216.34,516.14 L215.73,515.54 L215.14,514.93 L214.56,514.31 L213.99,513.68 L213.44,513.03 L212.90,512.37 L212.39,511.69 L211.91,511.00 L211.46,510.28 L211.04,509.53 L210.66,508.77 L210.33,507.98 L210.05,507.17 L209.82,506.34 L209.65,505.49 L209.53,504.63 L209.48,503.75 L209.48,502.86 L209.55,501.97 L209.68,501.09 L209.87,500.20 L210.11,499.33 L210.41,498.47 L210.75,497.63 L211.15,496.81 L211.58,496.03 L212.06,495.27 L212.57,494.55 L213.11,493.87 L213.68,493.22 L214.28,492.62 L214.90,492.06 L215.54,491.54 L216.21,491.06 L216.90,490.62 L217.61,490.22 L218.34,489.86 L219.09,489.55 L219.86,489.26 L220.65,489.02 L221.47,488.81 L222.30,488.65 L223.16,488.51 L224.03,488.42 L224.92,488.36Z" fill="#f2a6c8" stroke="#f77ab2" stroke-width="1.6"/>
<path d="M245.57,528.92 L246.55,528.96 L247.51,529.05 L248.47,529.22 L249.41,529.46 L250.32,529.77 L251.19,530.17 L252.03,530.65 L252.82,531.20 L253.55,531.83 L254.23,532.53 L254.84,533.30 L255.38,534.12 L255.85,535.00 L256.24,535.92 L256.57,536.88 L256.82,537.86 L256.99,538.87 L257.10,539.88 L257.15,540.89 L257.14,541.90 L257.07,542.91 L256.95,543.89 L256.78,544.86 L256.58,545.81 L256.34,546.74 L256.07,547.65 L255.77,548.54 L255.45,549.41 L255.10,550.27 L254.74,551.12 L254.35,551.95 L253.94,552.78 L253.52,553.61 L253.06,554.43 L252.59,555.25 L252.08,556.07 L251.55,556.88 L250.99,557.70 L250.39,558.50 L249.75,559.29 L249.08,560.06 L248.38,560.81 L247.63,561.53 L246.86,562.22 L246.05,562.85 L245.21,563.44 L244.34,563.97 L243.46,564.43 L242.55,564.82 L241.64,565.13 L240.71,565.36 L239.78,565.51 L238.86,565.58 L237.94,565.57 L237.03,565.47 L236.13,565.30 L235.25,565.04 L234.39,564.72 L233.54,564.34 L232.72,563.89 L231.91,563.40 L231.13,562.85 L230.35,562.27 L229.60,561.65 L228.85,561.01 L228.12,560.34 L227.40,559.65 L226.69,558.95 L225.98,558.23 L225.29,557.50 L224.60,556.76 L223.93,556.01 L223.27,555.25 L222.63,554.47 L222.01,553.68 L221.42,552.87 L220.87,552.05 L220.36,551.21 L219.89,550.36 L219.49,549.48 L219.14,548.59 L218.87,547.69 L218.67,546.77 L218.55,545.85 L218.51,544.93 L218.56,544.00 L218.70,543.08 L218.93,542.18 L219.25,541.29 L219.65,540.43 L220.13,539.59 L220.68,538.79 L221.30,538.03 L221.99,537.30 L222.73,536.63 L223.52,535.99 L224.35,535.41 L225.21,534.87 L226.10,534.37 L227.00,533.91 L227.91,533.49 L228.83,533.10 L229.76,532.75 L230.68,532.41 L231.59,532.10 L232.51,531.80 L233.42,531.51 L234.32,531.24 L235.23,530.96 L236.14,530.70 L237.04,530.44 L237.96,530.19 L238.88,529.94 L239.80,529.71 L240.74,529.50 L241.69,529.31 L242.65,529.15 L243.62,529.03 L244.59,528.95Z" fill="#f2a6c8" stroke="#f77ab2" stroke-width="1.6"/>
<rect x="597.00" y="78.30" width="198.50" height="53.70" rx="3.5" fill="#f8f7f5" stroke="#33b0e4" stroke-width="1.7"/>
<rect x="2.50" y="629.50" width="198.00" height="69.50" rx="3.5" fill="#f8f7f5" stroke="#ee5f9c" stroke-width="1.7"/>
<rect x="529.40" y="671.50" width="197.85" height="53.40" rx="3.5" fill="#f8f7f5" stroke="#a45ee8" stroke-width="1.7"/>
</svg>
<div class="badge" style="left:608.5px;top:89.8px;width:21.2px;background:#70d6fb">I</div>
<div class="t" style="left:636px;top:92.4px">International Relations</div>
<div class="s" style="left:608.5px;top:110.1px">908 résultats web</div>

<div class="badge" style="left:13.75px;top:641px;width:21.2px;background:#fca7cf">III</div>
<div class="t" style="left:41px;top:643.6px">Cultural and Community</div>
<div class="t" style="left:14.2px;top:661.2px">Initiatives</div>
<div class="s" style="left:14.2px;top:677px">141 résultats web</div>

<div class="badge" style="left:540px;top:683px;width:21.2px;background:#bf7cf8">II</div>
<div class="t" style="left:567.2px;top:685.3px">Social and Governance Issues</div>
<div class="s" style="left:540.5px;top:702.9px">533 résultats web</div>
</body></html>
